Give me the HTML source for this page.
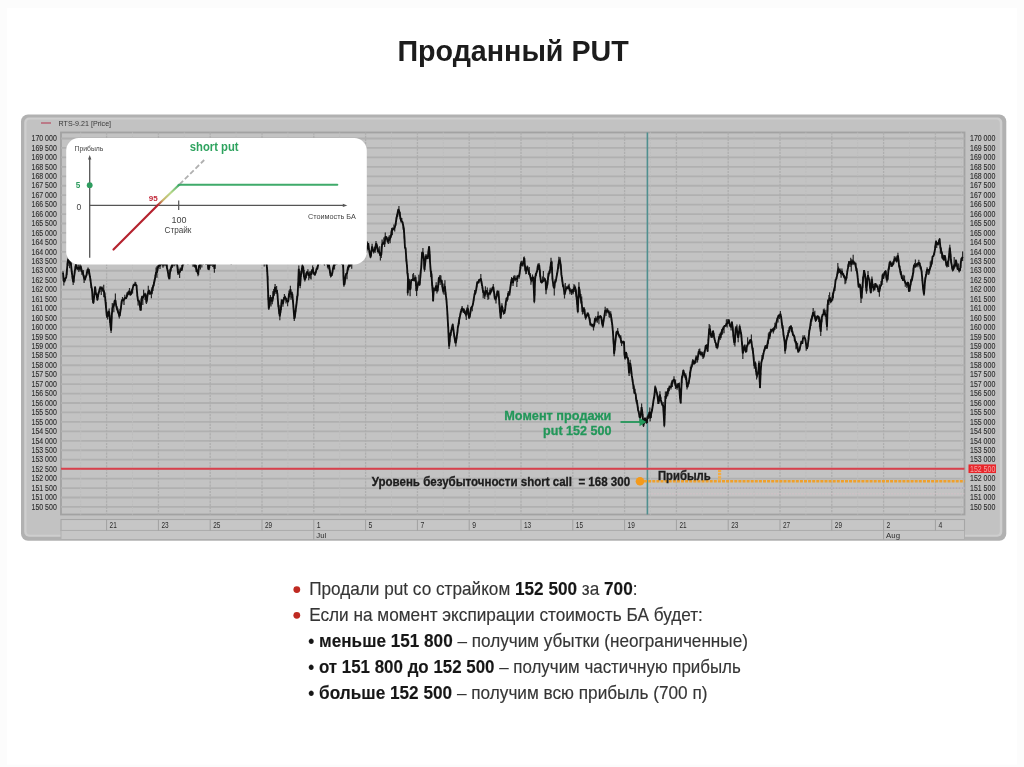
<!DOCTYPE html><html><head><meta charset="utf-8"><title>Проданный PUT</title>
<style>html,body{margin:0;padding:0;background:#fff;}body{width:1024px;height:767px;overflow:hidden;position:relative;font-family:"Liberation Sans",sans-serif;}svg{position:absolute;left:0;top:0;display:block}text{font-family:"Liberation Sans",sans-serif;}</style></head><body>
<svg width="1024" height="767" viewBox="0 0 1024 767">
<defs>
<linearGradient id="rg" gradientUnits="userSpaceOnUse" x1="157.6" y1="205.2" x2="179.5" y2="184.4"><stop offset="0" stop-color="#b5232f"/><stop offset="0.25" stop-color="#c9b46a"/><stop offset="0.6" stop-color="#b9d98a"/><stop offset="1" stop-color="#3faa6a"/></linearGradient>
<filter id="b0" x="-5%" y="-20%" width="110%" height="140%"><feGaussianBlur stdDeviation="0.4"/></filter>
<filter id="b1" x="-5%" y="-5%" width="110%" height="110%"><feGaussianBlur stdDeviation="0.45"/></filter>
<filter id="b2" x="-5%" y="-5%" width="110%" height="110%"><feGaussianBlur stdDeviation="0.6"/></filter>
<clipPath id="pc"><rect x="61" y="132.5" width="903.5" height="382.0"/></clipPath>
</defs>
<rect width="1024" height="767" fill="#fcfcfc"/><rect x="7" y="8" width="1010" height="756.5" fill="#ffffff"/>
<text x="397.4" y="60.9" font-size="28.6" font-weight="bold" fill="#1a1a1a" filter="url(#b0)" textLength="231.4" lengthAdjust="spacingAndGlyphs">Проданный PUT</text>
<g filter="url(#b1)">
<rect x="21" y="114.5" width="985.3" height="426.29999999999995" rx="7" fill="#b1b1b1"/>
<rect x="24.2" y="117.5" width="978.0999999999999" height="419.29999999999995" rx="5" fill="#cecece"/>
<rect x="26.5" y="119.5" width="973.3" height="415.29999999999995" rx="3.5" fill="#c2c2c2"/>
<rect x="61" y="132.5" width="903.5" height="382.0" fill="#c3c3c3" stroke="#a2a2a2" stroke-width="1.8"/>
<line x1="61" x2="964.5" y1="138.50" y2="138.50" stroke="#b0b0b0" stroke-width="1.8"/>
<line x1="61" x2="964.5" y1="147.95" y2="147.95" stroke="#b0b0b0" stroke-width="1.8"/>
<line x1="61" x2="964.5" y1="157.39" y2="157.39" stroke="#b0b0b0" stroke-width="1.8"/>
<line x1="61" x2="964.5" y1="166.84" y2="166.84" stroke="#b0b0b0" stroke-width="1.8"/>
<line x1="61" x2="964.5" y1="176.29" y2="176.29" stroke="#b0b0b0" stroke-width="1.8"/>
<line x1="61" x2="964.5" y1="185.74" y2="185.74" stroke="#b0b0b0" stroke-width="1.8"/>
<line x1="61" x2="964.5" y1="195.18" y2="195.18" stroke="#b0b0b0" stroke-width="1.8"/>
<line x1="61" x2="964.5" y1="204.63" y2="204.63" stroke="#b0b0b0" stroke-width="1.8"/>
<line x1="61" x2="964.5" y1="214.08" y2="214.08" stroke="#b0b0b0" stroke-width="1.8"/>
<line x1="61" x2="964.5" y1="223.52" y2="223.52" stroke="#b0b0b0" stroke-width="1.8"/>
<line x1="61" x2="964.5" y1="232.97" y2="232.97" stroke="#b0b0b0" stroke-width="1.8"/>
<line x1="61" x2="964.5" y1="242.42" y2="242.42" stroke="#b0b0b0" stroke-width="1.8"/>
<line x1="61" x2="964.5" y1="251.86" y2="251.86" stroke="#b0b0b0" stroke-width="1.8"/>
<line x1="61" x2="964.5" y1="261.31" y2="261.31" stroke="#b0b0b0" stroke-width="1.8"/>
<line x1="61" x2="964.5" y1="270.76" y2="270.76" stroke="#b0b0b0" stroke-width="1.8"/>
<line x1="61" x2="964.5" y1="280.20" y2="280.20" stroke="#b0b0b0" stroke-width="1.8"/>
<line x1="61" x2="964.5" y1="289.65" y2="289.65" stroke="#b0b0b0" stroke-width="1.8"/>
<line x1="61" x2="964.5" y1="299.10" y2="299.10" stroke="#b0b0b0" stroke-width="1.8"/>
<line x1="61" x2="964.5" y1="308.55" y2="308.55" stroke="#b0b0b0" stroke-width="1.8"/>
<line x1="61" x2="964.5" y1="317.99" y2="317.99" stroke="#b0b0b0" stroke-width="1.8"/>
<line x1="61" x2="964.5" y1="327.44" y2="327.44" stroke="#b0b0b0" stroke-width="1.8"/>
<line x1="61" x2="964.5" y1="336.89" y2="336.89" stroke="#b0b0b0" stroke-width="1.8"/>
<line x1="61" x2="964.5" y1="346.33" y2="346.33" stroke="#b0b0b0" stroke-width="1.8"/>
<line x1="61" x2="964.5" y1="355.78" y2="355.78" stroke="#b0b0b0" stroke-width="1.8"/>
<line x1="61" x2="964.5" y1="365.23" y2="365.23" stroke="#b0b0b0" stroke-width="1.8"/>
<line x1="61" x2="964.5" y1="374.67" y2="374.67" stroke="#b0b0b0" stroke-width="1.8"/>
<line x1="61" x2="964.5" y1="384.12" y2="384.12" stroke="#b0b0b0" stroke-width="1.8"/>
<line x1="61" x2="964.5" y1="393.57" y2="393.57" stroke="#b0b0b0" stroke-width="1.8"/>
<line x1="61" x2="964.5" y1="403.02" y2="403.02" stroke="#b0b0b0" stroke-width="1.8"/>
<line x1="61" x2="964.5" y1="412.46" y2="412.46" stroke="#b0b0b0" stroke-width="1.8"/>
<line x1="61" x2="964.5" y1="421.91" y2="421.91" stroke="#b0b0b0" stroke-width="1.8"/>
<line x1="61" x2="964.5" y1="431.36" y2="431.36" stroke="#b0b0b0" stroke-width="1.8"/>
<line x1="61" x2="964.5" y1="440.80" y2="440.80" stroke="#b0b0b0" stroke-width="1.8"/>
<line x1="61" x2="964.5" y1="450.25" y2="450.25" stroke="#b0b0b0" stroke-width="1.8"/>
<line x1="61" x2="964.5" y1="459.70" y2="459.70" stroke="#b0b0b0" stroke-width="1.8"/>
<line x1="61" x2="964.5" y1="469.14" y2="469.14" stroke="#b0b0b0" stroke-width="1.8"/>
<line x1="61" x2="964.5" y1="478.59" y2="478.59" stroke="#b0b0b0" stroke-width="1.8"/>
<line x1="61" x2="964.5" y1="488.04" y2="488.04" stroke="#b0b0b0" stroke-width="1.8"/>
<line x1="61" x2="964.5" y1="497.49" y2="497.49" stroke="#b0b0b0" stroke-width="1.8"/>
<line x1="61" x2="964.5" y1="506.93" y2="506.93" stroke="#b0b0b0" stroke-width="1.8"/>
<line x1="106.60" x2="106.60" y1="132.5" y2="514.5" stroke="#aeaeae" stroke-width="1.3" stroke-dasharray="2.2 1"/>
<line x1="132.50" x2="132.50" y1="132.5" y2="514.5" stroke="#bdbdbd" stroke-width="1" stroke-dasharray="2 1.2"/>
<line x1="158.40" x2="158.40" y1="132.5" y2="514.5" stroke="#aeaeae" stroke-width="1.3" stroke-dasharray="2.2 1"/>
<line x1="184.30" x2="184.30" y1="132.5" y2="514.5" stroke="#bdbdbd" stroke-width="1" stroke-dasharray="2 1.2"/>
<line x1="210.20" x2="210.20" y1="132.5" y2="514.5" stroke="#aeaeae" stroke-width="1.3" stroke-dasharray="2.2 1"/>
<line x1="236.10" x2="236.10" y1="132.5" y2="514.5" stroke="#bdbdbd" stroke-width="1" stroke-dasharray="2 1.2"/>
<line x1="262.00" x2="262.00" y1="132.5" y2="514.5" stroke="#aeaeae" stroke-width="1.3" stroke-dasharray="2.2 1"/>
<line x1="287.90" x2="287.90" y1="132.5" y2="514.5" stroke="#bdbdbd" stroke-width="1" stroke-dasharray="2 1.2"/>
<line x1="313.80" x2="313.80" y1="132.5" y2="514.5" stroke="#aeaeae" stroke-width="1.3" stroke-dasharray="2.2 1"/>
<line x1="339.70" x2="339.70" y1="132.5" y2="514.5" stroke="#bdbdbd" stroke-width="1" stroke-dasharray="2 1.2"/>
<line x1="365.60" x2="365.60" y1="132.5" y2="514.5" stroke="#aeaeae" stroke-width="1.3" stroke-dasharray="2.2 1"/>
<line x1="391.50" x2="391.50" y1="132.5" y2="514.5" stroke="#bdbdbd" stroke-width="1" stroke-dasharray="2 1.2"/>
<line x1="417.40" x2="417.40" y1="132.5" y2="514.5" stroke="#aeaeae" stroke-width="1.3" stroke-dasharray="2.2 1"/>
<line x1="443.30" x2="443.30" y1="132.5" y2="514.5" stroke="#bdbdbd" stroke-width="1" stroke-dasharray="2 1.2"/>
<line x1="469.20" x2="469.20" y1="132.5" y2="514.5" stroke="#aeaeae" stroke-width="1.3" stroke-dasharray="2.2 1"/>
<line x1="495.10" x2="495.10" y1="132.5" y2="514.5" stroke="#bdbdbd" stroke-width="1" stroke-dasharray="2 1.2"/>
<line x1="521.00" x2="521.00" y1="132.5" y2="514.5" stroke="#aeaeae" stroke-width="1.3" stroke-dasharray="2.2 1"/>
<line x1="546.90" x2="546.90" y1="132.5" y2="514.5" stroke="#bdbdbd" stroke-width="1" stroke-dasharray="2 1.2"/>
<line x1="572.80" x2="572.80" y1="132.5" y2="514.5" stroke="#aeaeae" stroke-width="1.3" stroke-dasharray="2.2 1"/>
<line x1="598.70" x2="598.70" y1="132.5" y2="514.5" stroke="#bdbdbd" stroke-width="1" stroke-dasharray="2 1.2"/>
<line x1="624.60" x2="624.60" y1="132.5" y2="514.5" stroke="#aeaeae" stroke-width="1.3" stroke-dasharray="2.2 1"/>
<line x1="650.50" x2="650.50" y1="132.5" y2="514.5" stroke="#bdbdbd" stroke-width="1" stroke-dasharray="2 1.2"/>
<line x1="676.40" x2="676.40" y1="132.5" y2="514.5" stroke="#aeaeae" stroke-width="1.3" stroke-dasharray="2.2 1"/>
<line x1="702.30" x2="702.30" y1="132.5" y2="514.5" stroke="#bdbdbd" stroke-width="1" stroke-dasharray="2 1.2"/>
<line x1="728.20" x2="728.20" y1="132.5" y2="514.5" stroke="#aeaeae" stroke-width="1.3" stroke-dasharray="2.2 1"/>
<line x1="754.10" x2="754.10" y1="132.5" y2="514.5" stroke="#bdbdbd" stroke-width="1" stroke-dasharray="2 1.2"/>
<line x1="780.00" x2="780.00" y1="132.5" y2="514.5" stroke="#aeaeae" stroke-width="1.3" stroke-dasharray="2.2 1"/>
<line x1="805.90" x2="805.90" y1="132.5" y2="514.5" stroke="#bdbdbd" stroke-width="1" stroke-dasharray="2 1.2"/>
<line x1="831.80" x2="831.80" y1="132.5" y2="514.5" stroke="#aeaeae" stroke-width="1.3" stroke-dasharray="2.2 1"/>
<line x1="857.70" x2="857.70" y1="132.5" y2="514.5" stroke="#bdbdbd" stroke-width="1" stroke-dasharray="2 1.2"/>
<line x1="883.60" x2="883.60" y1="132.5" y2="514.5" stroke="#aeaeae" stroke-width="1.3" stroke-dasharray="2.2 1"/>
<line x1="909.50" x2="909.50" y1="132.5" y2="514.5" stroke="#bdbdbd" stroke-width="1" stroke-dasharray="2 1.2"/>
<line x1="935.40" x2="935.40" y1="132.5" y2="514.5" stroke="#aeaeae" stroke-width="1.3" stroke-dasharray="2.2 1"/>
<line x1="961.30" x2="961.30" y1="132.5" y2="514.5" stroke="#bdbdbd" stroke-width="1" stroke-dasharray="2 1.2"/>
<line x1="80.70" x2="80.70" y1="132.5" y2="514.5" stroke="#bdbdbd" stroke-width="1" stroke-dasharray="2 1.2"/>
<rect x="61" y="519.5" width="903.5" height="11" fill="#c6c6c6" stroke="#a6a6a6" stroke-width="1.1"/>
<rect x="61" y="530.5" width="903.5" height="9" fill="#c6c6c6" stroke="#adadad" stroke-width="0.9"/>
<line x1="106.60" x2="106.60" y1="519.5" y2="530.5" stroke="#a0a0a0" stroke-width="1"/>
<text x="109.6" y="527.6" font-size="8.6" fill="#2c2c2c" textLength="7.2" lengthAdjust="spacingAndGlyphs">21</text>
<line x1="158.40" x2="158.40" y1="519.5" y2="530.5" stroke="#a0a0a0" stroke-width="1"/>
<text x="161.4" y="527.6" font-size="8.6" fill="#2c2c2c" textLength="7.2" lengthAdjust="spacingAndGlyphs">23</text>
<line x1="210.20" x2="210.20" y1="519.5" y2="530.5" stroke="#a0a0a0" stroke-width="1"/>
<text x="213.2" y="527.6" font-size="8.6" fill="#2c2c2c" textLength="7.2" lengthAdjust="spacingAndGlyphs">25</text>
<line x1="262.00" x2="262.00" y1="519.5" y2="530.5" stroke="#a0a0a0" stroke-width="1"/>
<text x="265.0" y="527.6" font-size="8.6" fill="#2c2c2c" textLength="7.2" lengthAdjust="spacingAndGlyphs">29</text>
<line x1="313.80" x2="313.80" y1="519.5" y2="530.5" stroke="#a0a0a0" stroke-width="1"/>
<text x="316.8" y="527.6" font-size="8.6" fill="#2c2c2c" textLength="3.8" lengthAdjust="spacingAndGlyphs">1</text>
<line x1="365.60" x2="365.60" y1="519.5" y2="530.5" stroke="#a0a0a0" stroke-width="1"/>
<text x="368.6" y="527.6" font-size="8.6" fill="#2c2c2c" textLength="3.8" lengthAdjust="spacingAndGlyphs">5</text>
<line x1="417.40" x2="417.40" y1="519.5" y2="530.5" stroke="#a0a0a0" stroke-width="1"/>
<text x="420.4" y="527.6" font-size="8.6" fill="#2c2c2c" textLength="3.8" lengthAdjust="spacingAndGlyphs">7</text>
<line x1="469.20" x2="469.20" y1="519.5" y2="530.5" stroke="#a0a0a0" stroke-width="1"/>
<text x="472.2" y="527.6" font-size="8.6" fill="#2c2c2c" textLength="3.8" lengthAdjust="spacingAndGlyphs">9</text>
<line x1="521.00" x2="521.00" y1="519.5" y2="530.5" stroke="#a0a0a0" stroke-width="1"/>
<text x="524.0" y="527.6" font-size="8.6" fill="#2c2c2c" textLength="7.2" lengthAdjust="spacingAndGlyphs">13</text>
<line x1="572.80" x2="572.80" y1="519.5" y2="530.5" stroke="#a0a0a0" stroke-width="1"/>
<text x="575.8" y="527.6" font-size="8.6" fill="#2c2c2c" textLength="7.2" lengthAdjust="spacingAndGlyphs">15</text>
<line x1="624.60" x2="624.60" y1="519.5" y2="530.5" stroke="#a0a0a0" stroke-width="1"/>
<text x="627.6" y="527.6" font-size="8.6" fill="#2c2c2c" textLength="7.2" lengthAdjust="spacingAndGlyphs">19</text>
<line x1="676.40" x2="676.40" y1="519.5" y2="530.5" stroke="#a0a0a0" stroke-width="1"/>
<text x="679.4" y="527.6" font-size="8.6" fill="#2c2c2c" textLength="7.2" lengthAdjust="spacingAndGlyphs">21</text>
<line x1="728.20" x2="728.20" y1="519.5" y2="530.5" stroke="#a0a0a0" stroke-width="1"/>
<text x="731.2" y="527.6" font-size="8.6" fill="#2c2c2c" textLength="7.2" lengthAdjust="spacingAndGlyphs">23</text>
<line x1="780.00" x2="780.00" y1="519.5" y2="530.5" stroke="#a0a0a0" stroke-width="1"/>
<text x="783.0" y="527.6" font-size="8.6" fill="#2c2c2c" textLength="7.2" lengthAdjust="spacingAndGlyphs">27</text>
<line x1="831.80" x2="831.80" y1="519.5" y2="530.5" stroke="#a0a0a0" stroke-width="1"/>
<text x="834.8" y="527.6" font-size="8.6" fill="#2c2c2c" textLength="7.2" lengthAdjust="spacingAndGlyphs">29</text>
<line x1="883.60" x2="883.60" y1="519.5" y2="530.5" stroke="#a0a0a0" stroke-width="1"/>
<text x="886.6" y="527.6" font-size="8.6" fill="#2c2c2c" textLength="3.8" lengthAdjust="spacingAndGlyphs">2</text>
<line x1="935.40" x2="935.40" y1="519.5" y2="530.5" stroke="#a0a0a0" stroke-width="1"/>
<text x="938.4" y="527.6" font-size="8.6" fill="#2c2c2c" textLength="3.8" lengthAdjust="spacingAndGlyphs">4</text>
<line x1="313.80" x2="313.80" y1="530.5" y2="539.5" stroke="#a0a0a0" stroke-width="1"/>
<text x="316.3" y="538.3" font-size="7.8" fill="#2c2c2c">Jul</text>
<line x1="883.60" x2="883.60" y1="530.5" y2="539.5" stroke="#a0a0a0" stroke-width="1"/>
<text x="886.1" y="538.3" font-size="7.8" fill="#2c2c2c">Aug</text>
<line x1="41" x2="51" y1="123" y2="123" stroke="#b85468" stroke-width="1.3"/>
<text x="58.6" y="125.8" font-size="7.8" fill="#383838" textLength="52.5" lengthAdjust="spacingAndGlyphs">RTS-9.21 [Price]</text>
<text x="31.5" y="141.20" font-size="8.8" fill="#2c2c2c" stroke="#2c2c2c" stroke-width="0.12" textLength="25.3" lengthAdjust="spacingAndGlyphs">170 000</text>
<text x="970" y="141.20" font-size="8.8" fill="#2c2c2c" stroke="#2c2c2c" stroke-width="0.12" textLength="25.3" lengthAdjust="spacingAndGlyphs">170 000</text>
<text x="31.5" y="150.65" font-size="8.8" fill="#2c2c2c" stroke="#2c2c2c" stroke-width="0.12" textLength="25.3" lengthAdjust="spacingAndGlyphs">169 500</text>
<text x="970" y="150.65" font-size="8.8" fill="#2c2c2c" stroke="#2c2c2c" stroke-width="0.12" textLength="25.3" lengthAdjust="spacingAndGlyphs">169 500</text>
<text x="31.5" y="160.09" font-size="8.8" fill="#2c2c2c" stroke="#2c2c2c" stroke-width="0.12" textLength="25.3" lengthAdjust="spacingAndGlyphs">169 000</text>
<text x="970" y="160.09" font-size="8.8" fill="#2c2c2c" stroke="#2c2c2c" stroke-width="0.12" textLength="25.3" lengthAdjust="spacingAndGlyphs">169 000</text>
<text x="31.5" y="169.54" font-size="8.8" fill="#2c2c2c" stroke="#2c2c2c" stroke-width="0.12" textLength="25.3" lengthAdjust="spacingAndGlyphs">168 500</text>
<text x="970" y="169.54" font-size="8.8" fill="#2c2c2c" stroke="#2c2c2c" stroke-width="0.12" textLength="25.3" lengthAdjust="spacingAndGlyphs">168 500</text>
<text x="31.5" y="178.99" font-size="8.8" fill="#2c2c2c" stroke="#2c2c2c" stroke-width="0.12" textLength="25.3" lengthAdjust="spacingAndGlyphs">168 000</text>
<text x="970" y="178.99" font-size="8.8" fill="#2c2c2c" stroke="#2c2c2c" stroke-width="0.12" textLength="25.3" lengthAdjust="spacingAndGlyphs">168 000</text>
<text x="31.5" y="188.44" font-size="8.8" fill="#2c2c2c" stroke="#2c2c2c" stroke-width="0.12" textLength="25.3" lengthAdjust="spacingAndGlyphs">167 500</text>
<text x="970" y="188.44" font-size="8.8" fill="#2c2c2c" stroke="#2c2c2c" stroke-width="0.12" textLength="25.3" lengthAdjust="spacingAndGlyphs">167 500</text>
<text x="31.5" y="197.88" font-size="8.8" fill="#2c2c2c" stroke="#2c2c2c" stroke-width="0.12" textLength="25.3" lengthAdjust="spacingAndGlyphs">167 000</text>
<text x="970" y="197.88" font-size="8.8" fill="#2c2c2c" stroke="#2c2c2c" stroke-width="0.12" textLength="25.3" lengthAdjust="spacingAndGlyphs">167 000</text>
<text x="31.5" y="207.33" font-size="8.8" fill="#2c2c2c" stroke="#2c2c2c" stroke-width="0.12" textLength="25.3" lengthAdjust="spacingAndGlyphs">166 500</text>
<text x="970" y="207.33" font-size="8.8" fill="#2c2c2c" stroke="#2c2c2c" stroke-width="0.12" textLength="25.3" lengthAdjust="spacingAndGlyphs">166 500</text>
<text x="31.5" y="216.78" font-size="8.8" fill="#2c2c2c" stroke="#2c2c2c" stroke-width="0.12" textLength="25.3" lengthAdjust="spacingAndGlyphs">166 000</text>
<text x="970" y="216.78" font-size="8.8" fill="#2c2c2c" stroke="#2c2c2c" stroke-width="0.12" textLength="25.3" lengthAdjust="spacingAndGlyphs">166 000</text>
<text x="31.5" y="226.22" font-size="8.8" fill="#2c2c2c" stroke="#2c2c2c" stroke-width="0.12" textLength="25.3" lengthAdjust="spacingAndGlyphs">165 500</text>
<text x="970" y="226.22" font-size="8.8" fill="#2c2c2c" stroke="#2c2c2c" stroke-width="0.12" textLength="25.3" lengthAdjust="spacingAndGlyphs">165 500</text>
<text x="31.5" y="235.67" font-size="8.8" fill="#2c2c2c" stroke="#2c2c2c" stroke-width="0.12" textLength="25.3" lengthAdjust="spacingAndGlyphs">165 000</text>
<text x="970" y="235.67" font-size="8.8" fill="#2c2c2c" stroke="#2c2c2c" stroke-width="0.12" textLength="25.3" lengthAdjust="spacingAndGlyphs">165 000</text>
<text x="31.5" y="245.12" font-size="8.8" fill="#2c2c2c" stroke="#2c2c2c" stroke-width="0.12" textLength="25.3" lengthAdjust="spacingAndGlyphs">164 500</text>
<text x="970" y="245.12" font-size="8.8" fill="#2c2c2c" stroke="#2c2c2c" stroke-width="0.12" textLength="25.3" lengthAdjust="spacingAndGlyphs">164 500</text>
<text x="31.5" y="254.56" font-size="8.8" fill="#2c2c2c" stroke="#2c2c2c" stroke-width="0.12" textLength="25.3" lengthAdjust="spacingAndGlyphs">164 000</text>
<text x="970" y="254.56" font-size="8.8" fill="#2c2c2c" stroke="#2c2c2c" stroke-width="0.12" textLength="25.3" lengthAdjust="spacingAndGlyphs">164 000</text>
<text x="31.5" y="264.01" font-size="8.8" fill="#2c2c2c" stroke="#2c2c2c" stroke-width="0.12" textLength="25.3" lengthAdjust="spacingAndGlyphs">163 500</text>
<text x="970" y="264.01" font-size="8.8" fill="#2c2c2c" stroke="#2c2c2c" stroke-width="0.12" textLength="25.3" lengthAdjust="spacingAndGlyphs">163 500</text>
<text x="31.5" y="273.46" font-size="8.8" fill="#2c2c2c" stroke="#2c2c2c" stroke-width="0.12" textLength="25.3" lengthAdjust="spacingAndGlyphs">163 000</text>
<text x="970" y="273.46" font-size="8.8" fill="#2c2c2c" stroke="#2c2c2c" stroke-width="0.12" textLength="25.3" lengthAdjust="spacingAndGlyphs">163 000</text>
<text x="31.5" y="282.90" font-size="8.8" fill="#2c2c2c" stroke="#2c2c2c" stroke-width="0.12" textLength="25.3" lengthAdjust="spacingAndGlyphs">162 500</text>
<text x="970" y="282.90" font-size="8.8" fill="#2c2c2c" stroke="#2c2c2c" stroke-width="0.12" textLength="25.3" lengthAdjust="spacingAndGlyphs">162 500</text>
<text x="31.5" y="292.35" font-size="8.8" fill="#2c2c2c" stroke="#2c2c2c" stroke-width="0.12" textLength="25.3" lengthAdjust="spacingAndGlyphs">162 000</text>
<text x="970" y="292.35" font-size="8.8" fill="#2c2c2c" stroke="#2c2c2c" stroke-width="0.12" textLength="25.3" lengthAdjust="spacingAndGlyphs">162 000</text>
<text x="31.5" y="301.80" font-size="8.8" fill="#2c2c2c" stroke="#2c2c2c" stroke-width="0.12" textLength="25.3" lengthAdjust="spacingAndGlyphs">161 500</text>
<text x="970" y="301.80" font-size="8.8" fill="#2c2c2c" stroke="#2c2c2c" stroke-width="0.12" textLength="25.3" lengthAdjust="spacingAndGlyphs">161 500</text>
<text x="31.5" y="311.25" font-size="8.8" fill="#2c2c2c" stroke="#2c2c2c" stroke-width="0.12" textLength="25.3" lengthAdjust="spacingAndGlyphs">161 000</text>
<text x="970" y="311.25" font-size="8.8" fill="#2c2c2c" stroke="#2c2c2c" stroke-width="0.12" textLength="25.3" lengthAdjust="spacingAndGlyphs">161 000</text>
<text x="31.5" y="320.69" font-size="8.8" fill="#2c2c2c" stroke="#2c2c2c" stroke-width="0.12" textLength="25.3" lengthAdjust="spacingAndGlyphs">160 500</text>
<text x="970" y="320.69" font-size="8.8" fill="#2c2c2c" stroke="#2c2c2c" stroke-width="0.12" textLength="25.3" lengthAdjust="spacingAndGlyphs">160 500</text>
<text x="31.5" y="330.14" font-size="8.8" fill="#2c2c2c" stroke="#2c2c2c" stroke-width="0.12" textLength="25.3" lengthAdjust="spacingAndGlyphs">160 000</text>
<text x="970" y="330.14" font-size="8.8" fill="#2c2c2c" stroke="#2c2c2c" stroke-width="0.12" textLength="25.3" lengthAdjust="spacingAndGlyphs">160 000</text>
<text x="31.5" y="339.59" font-size="8.8" fill="#2c2c2c" stroke="#2c2c2c" stroke-width="0.12" textLength="25.3" lengthAdjust="spacingAndGlyphs">159 500</text>
<text x="970" y="339.59" font-size="8.8" fill="#2c2c2c" stroke="#2c2c2c" stroke-width="0.12" textLength="25.3" lengthAdjust="spacingAndGlyphs">159 500</text>
<text x="31.5" y="349.03" font-size="8.8" fill="#2c2c2c" stroke="#2c2c2c" stroke-width="0.12" textLength="25.3" lengthAdjust="spacingAndGlyphs">159 000</text>
<text x="970" y="349.03" font-size="8.8" fill="#2c2c2c" stroke="#2c2c2c" stroke-width="0.12" textLength="25.3" lengthAdjust="spacingAndGlyphs">159 000</text>
<text x="31.5" y="358.48" font-size="8.8" fill="#2c2c2c" stroke="#2c2c2c" stroke-width="0.12" textLength="25.3" lengthAdjust="spacingAndGlyphs">158 500</text>
<text x="970" y="358.48" font-size="8.8" fill="#2c2c2c" stroke="#2c2c2c" stroke-width="0.12" textLength="25.3" lengthAdjust="spacingAndGlyphs">158 500</text>
<text x="31.5" y="367.93" font-size="8.8" fill="#2c2c2c" stroke="#2c2c2c" stroke-width="0.12" textLength="25.3" lengthAdjust="spacingAndGlyphs">158 000</text>
<text x="970" y="367.93" font-size="8.8" fill="#2c2c2c" stroke="#2c2c2c" stroke-width="0.12" textLength="25.3" lengthAdjust="spacingAndGlyphs">158 000</text>
<text x="31.5" y="377.37" font-size="8.8" fill="#2c2c2c" stroke="#2c2c2c" stroke-width="0.12" textLength="25.3" lengthAdjust="spacingAndGlyphs">157 500</text>
<text x="970" y="377.37" font-size="8.8" fill="#2c2c2c" stroke="#2c2c2c" stroke-width="0.12" textLength="25.3" lengthAdjust="spacingAndGlyphs">157 500</text>
<text x="31.5" y="386.82" font-size="8.8" fill="#2c2c2c" stroke="#2c2c2c" stroke-width="0.12" textLength="25.3" lengthAdjust="spacingAndGlyphs">157 000</text>
<text x="970" y="386.82" font-size="8.8" fill="#2c2c2c" stroke="#2c2c2c" stroke-width="0.12" textLength="25.3" lengthAdjust="spacingAndGlyphs">157 000</text>
<text x="31.5" y="396.27" font-size="8.8" fill="#2c2c2c" stroke="#2c2c2c" stroke-width="0.12" textLength="25.3" lengthAdjust="spacingAndGlyphs">156 500</text>
<text x="970" y="396.27" font-size="8.8" fill="#2c2c2c" stroke="#2c2c2c" stroke-width="0.12" textLength="25.3" lengthAdjust="spacingAndGlyphs">156 500</text>
<text x="31.5" y="405.72" font-size="8.8" fill="#2c2c2c" stroke="#2c2c2c" stroke-width="0.12" textLength="25.3" lengthAdjust="spacingAndGlyphs">156 000</text>
<text x="970" y="405.72" font-size="8.8" fill="#2c2c2c" stroke="#2c2c2c" stroke-width="0.12" textLength="25.3" lengthAdjust="spacingAndGlyphs">156 000</text>
<text x="31.5" y="415.16" font-size="8.8" fill="#2c2c2c" stroke="#2c2c2c" stroke-width="0.12" textLength="25.3" lengthAdjust="spacingAndGlyphs">155 500</text>
<text x="970" y="415.16" font-size="8.8" fill="#2c2c2c" stroke="#2c2c2c" stroke-width="0.12" textLength="25.3" lengthAdjust="spacingAndGlyphs">155 500</text>
<text x="31.5" y="424.61" font-size="8.8" fill="#2c2c2c" stroke="#2c2c2c" stroke-width="0.12" textLength="25.3" lengthAdjust="spacingAndGlyphs">155 000</text>
<text x="970" y="424.61" font-size="8.8" fill="#2c2c2c" stroke="#2c2c2c" stroke-width="0.12" textLength="25.3" lengthAdjust="spacingAndGlyphs">155 000</text>
<text x="31.5" y="434.06" font-size="8.8" fill="#2c2c2c" stroke="#2c2c2c" stroke-width="0.12" textLength="25.3" lengthAdjust="spacingAndGlyphs">154 500</text>
<text x="970" y="434.06" font-size="8.8" fill="#2c2c2c" stroke="#2c2c2c" stroke-width="0.12" textLength="25.3" lengthAdjust="spacingAndGlyphs">154 500</text>
<text x="31.5" y="443.50" font-size="8.8" fill="#2c2c2c" stroke="#2c2c2c" stroke-width="0.12" textLength="25.3" lengthAdjust="spacingAndGlyphs">154 000</text>
<text x="970" y="443.50" font-size="8.8" fill="#2c2c2c" stroke="#2c2c2c" stroke-width="0.12" textLength="25.3" lengthAdjust="spacingAndGlyphs">154 000</text>
<text x="31.5" y="452.95" font-size="8.8" fill="#2c2c2c" stroke="#2c2c2c" stroke-width="0.12" textLength="25.3" lengthAdjust="spacingAndGlyphs">153 500</text>
<text x="970" y="452.95" font-size="8.8" fill="#2c2c2c" stroke="#2c2c2c" stroke-width="0.12" textLength="25.3" lengthAdjust="spacingAndGlyphs">153 500</text>
<text x="31.5" y="462.40" font-size="8.8" fill="#2c2c2c" stroke="#2c2c2c" stroke-width="0.12" textLength="25.3" lengthAdjust="spacingAndGlyphs">153 000</text>
<text x="970" y="462.40" font-size="8.8" fill="#2c2c2c" stroke="#2c2c2c" stroke-width="0.12" textLength="25.3" lengthAdjust="spacingAndGlyphs">153 000</text>
<text x="31.5" y="471.84" font-size="8.8" fill="#2c2c2c" stroke="#2c2c2c" stroke-width="0.12" textLength="25.3" lengthAdjust="spacingAndGlyphs">152 500</text>
<rect x="968.5" y="464.44" width="27.5" height="8.6" fill="#e8252b"/>
<text x="970" y="471.84" font-size="8.8" fill="#f4a4a4" textLength="25.3" lengthAdjust="spacingAndGlyphs">152 500</text>
<text x="31.5" y="481.29" font-size="8.8" fill="#2c2c2c" stroke="#2c2c2c" stroke-width="0.12" textLength="25.3" lengthAdjust="spacingAndGlyphs">152 000</text>
<text x="970" y="481.29" font-size="8.8" fill="#2c2c2c" stroke="#2c2c2c" stroke-width="0.12" textLength="25.3" lengthAdjust="spacingAndGlyphs">152 000</text>
<text x="31.5" y="490.74" font-size="8.8" fill="#2c2c2c" stroke="#2c2c2c" stroke-width="0.12" textLength="25.3" lengthAdjust="spacingAndGlyphs">151 500</text>
<text x="970" y="490.74" font-size="8.8" fill="#2c2c2c" stroke="#2c2c2c" stroke-width="0.12" textLength="25.3" lengthAdjust="spacingAndGlyphs">151 500</text>
<text x="31.5" y="500.19" font-size="8.8" fill="#2c2c2c" stroke="#2c2c2c" stroke-width="0.12" textLength="25.3" lengthAdjust="spacingAndGlyphs">151 000</text>
<text x="970" y="500.19" font-size="8.8" fill="#2c2c2c" stroke="#2c2c2c" stroke-width="0.12" textLength="25.3" lengthAdjust="spacingAndGlyphs">151 000</text>
<text x="31.5" y="509.63" font-size="8.8" fill="#2c2c2c" stroke="#2c2c2c" stroke-width="0.12" textLength="25.3" lengthAdjust="spacingAndGlyphs">150 500</text>
<text x="970" y="509.63" font-size="8.8" fill="#2c2c2c" stroke="#2c2c2c" stroke-width="0.12" textLength="25.3" lengthAdjust="spacingAndGlyphs">150 500</text>
</g>
<line x1="647.4" x2="647.4" y1="132.5" y2="514.5" stroke="#4f8f8f" stroke-width="1.6"/>
<g clip-path="url(#pc)" filter="url(#b2)"><path d="M63.0,272.8 L63.4,276.7 L63.8,281.4 L64.6,281.0 L65.4,278.4 L66.2,277.5 L66.9,270.7 L67.5,263.5 L68.2,258.8 L68.9,259.6 L69.6,263.0 L70.2,263.0 L70.9,263.5 L71.7,271.5 L72.4,276.4 L73.2,282.2 L74.0,277.7 L74.7,272.1 L75.5,266.6 L76.3,264.0 L77.1,268.5 L77.9,268.1 L78.7,267.4 L79.5,269.2 L80.2,266.5 L81.0,267.4 L81.8,271.3 L82.6,271.9 L83.3,274.8 L84.1,278.3 L84.9,279.9 L85.7,277.0 L86.5,275.1 L87.3,271.3 L88.0,269.4 L88.8,269.7 L89.6,274.9 L90.4,279.1 L91.2,285.6 L92.0,289.7 L92.7,299.6 L93.5,302.6 L94.3,295.7 L95.1,286.9 L95.9,293.4 L96.6,294.7 L97.4,300.2 L98.2,295.0 L99.0,291.8 L99.8,288.5 L100.6,288.1 L101.3,289.0 L102.1,287.7 L102.9,290.0 L103.7,290.6 L104.5,293.2 L105.3,299.1 L106.0,307.4 L106.8,315.9 L107.6,316.6 L108.4,311.9 L109.2,311.9 L109.8,318.6 L110.5,325.2 L111.1,330.7 L111.7,317.2 L112.3,308.8 L113.1,306.3 L113.8,305.8 L114.6,301.0 L115.4,300.2 L116.2,305.7 L117.0,308.8 L117.8,311.2 L118.5,312.6 L119.3,316.6 L120.1,313.1 L120.9,307.9 L121.7,301.2 L122.5,299.4 L123.3,300.3 L124.0,299.5 L124.8,297.9 L125.6,298.3 L126.3,298.0 L127.1,295.0 L127.9,293.2 L128.7,293.6 L129.5,291.4 L130.3,294.8 L131.1,294.0 L131.9,290.8 L132.6,288.9 L133.4,285.4 L134.2,285.4 L135.0,283.8 L135.7,284.5 L136.5,285.4 L137.3,295.4 L138.1,301.0 L138.9,300.7 L139.7,304.8 L140.5,310.4 L141.2,303.8 L142.0,296.3 L142.8,298.2 L143.6,296.2 L144.4,294.7 L145.1,294.1 L145.7,295.7 L146.4,302.6 L147.0,299.5 L147.7,294.0 L148.3,291.6 L149.1,290.2 L149.8,294.3 L150.6,293.2 L151.4,293.0 L152.2,289.3 L153.0,286.9 L153.8,284.2 L154.5,280.7 L155.3,277.1 L156.1,272.1 L156.9,272.7 L157.6,269.0 L158.4,265.8 L159.2,266.1 L160.0,265.5 L160.8,264.0 L161.5,260.7 L162.3,264.8 L163.0,262.0 L163.8,264.5 L164.7,264.6 L165.5,264.5 L166.3,263.4 L167.0,268.0 L167.8,271.3 L168.6,276.6 L169.4,279.1 L170.2,270.6 L171.0,268.2 L171.7,265.8 L172.3,265.8 L173.0,262.0 L173.8,259.4 L174.7,264.1 L175.5,261.0 L176.3,263.9 L177.2,265.0 L177.6,268.6 L178.0,272.8 L178.8,272.6 L179.6,272.4 L180.3,270.7 L181.1,269.7 L181.9,269.3 L182.7,265.0 L183.5,262.2 L184.2,261.0 L185.0,260.0 L185.7,261.5 L186.4,259.5 L187.1,257.6 L187.9,260.5 L188.6,261.1 L189.3,257.5 L190.0,258.0 L190.8,256.7 L191.5,259.8 L192.2,260.7 L193.0,262.0 L193.7,262.5 L194.5,266.4 L195.2,265.0 L195.9,265.6 L196.6,271.8 L197.3,269.9 L198.0,274.4 L198.6,268.8 L199.1,265.8 L199.7,264.9 L200.4,263.9 L201.0,260.0 L201.8,261.3 L202.6,260.2 L203.4,259.6 L204.2,259.5 L205.0,259.0 L205.8,261.5 L206.5,261.7 L207.2,264.0 L208.0,265.0 L208.3,268.3 L208.6,269.6 L209.1,266.8 L209.6,264.0 L210.4,264.0 L211.2,262.3 L212.0,260.0 L212.7,264.8 L213.3,263.2 L214.0,264.0 L214.2,265.7 L214.4,268.8 L214.8,265.3 L215.2,263.0 L215.9,261.7 L216.6,262.1 L217.3,258.7 L218.0,258.0 L218.8,258.3 L219.6,260.5 L220.3,252.6 L221.1,254.8 L221.9,256.7 L222.7,256.7 L223.4,256.1 L224.2,254.6 L225.0,255.0 L225.8,256.6 L226.6,256.4 L227.3,255.4 L228.1,260.9 L228.9,257.8 L229.7,256.7 L230.4,257.9 L231.2,258.2 L232.0,259.0 L232.7,258.4 L233.5,253.5 L234.2,256.8 L234.9,258.9 L235.6,254.7 L236.4,256.2 L237.1,257.4 L237.8,256.8 L238.5,257.4 L239.3,251.6 L240.0,254.0 L240.7,253.7 L241.5,254.0 L242.2,255.9 L242.9,256.9 L243.6,250.8 L244.4,257.5 L245.1,253.4 L245.8,257.3 L246.5,253.9 L247.3,257.0 L248.0,257.0 L248.7,258.6 L249.5,255.8 L250.2,256.0 L250.9,256.5 L251.6,255.0 L252.4,254.1 L253.1,256.4 L253.8,255.1 L254.5,252.4 L255.3,257.1 L256.0,252.0 L256.8,250.6 L257.5,254.6 L258.2,253.0 L259.0,254.2 L259.8,255.7 L260.5,255.4 L261.2,256.6 L262.0,256.0 L262.8,254.8 L263.5,256.1 L264.2,261.1 L265.0,259.8 L265.8,261.0 L266.5,264.1 L267.1,268.7 L267.6,278.2 L268.2,295.6 L268.8,308.7 L269.6,304.1 L270.4,297.0 L271.0,301.1 L271.7,298.5 L272.3,301.7 L273.0,298.0 L273.7,292.3 L274.4,291.8 L275.1,286.8 L275.9,291.8 L276.6,290.0 L277.4,293.8 L278.2,304.0 L279.0,310.6 L279.8,316.5 L280.6,310.3 L281.3,304.8 L282.1,299.9 L282.9,304.1 L283.6,300.0 L284.4,297.5 L285.2,297.0 L286.0,299.2 L286.8,300.8 L287.6,301.7 L288.3,301.1 L289.0,293.7 L289.7,294.2 L290.4,289.1 L291.0,293.2 L291.7,294.7 L292.3,293.8 L293.0,301.9 L293.6,309.3 L294.3,318.9 L294.9,316.4 L295.6,310.7 L296.2,306.3 L296.9,300.3 L297.7,293.8 L298.2,283.7 L298.8,268.8 L299.5,277.0 L300.1,286.0 L300.9,275.3 L301.6,271.8 L302.4,265.7 L303.2,267.2 L304.0,276.5 L304.8,279.8 L305.6,277.7 L306.3,273.5 L307.1,271.9 L307.9,273.0 L308.7,275.4 L309.5,275.1 L310.3,273.9 L311.1,274.6 L311.8,270.9 L312.6,269.6 L313.4,272.1 L314.1,273.7 L314.9,274.7 L315.7,272.7 L316.5,269.0 L317.3,269.0 L318.1,264.9 L318.7,260.1 L319.4,259.8 L320.0,260.0 L320.8,256.2 L321.5,260.8 L322.2,256.4 L323.0,258.0 L323.8,258.7 L324.5,259.2 L325.2,260.2 L326.0,261.0 L326.8,261.0 L327.5,263.4 L328.2,267.0 L329.0,265.0 L329.8,270.5 L330.6,275.9 L331.4,274.8 L332.2,273.5 L332.9,269.4 L333.7,265.6 L334.5,265.7 L335.2,261.9 L336.0,260.0 L336.8,261.3 L337.5,256.2 L338.2,257.5 L339.0,258.0 L339.8,260.7 L340.7,261.3 L341.5,261.0 L342.3,263.0 L343.1,265.0 L343.5,276.5 L343.9,285.2 L344.7,282.6 L345.4,277.3 L346.2,273.8 L347.0,273.5 L347.8,268.5 L348.6,265.7 L349.4,266.8 L350.1,263.9 L350.9,262.9 L351.7,264.0 L352.5,261.2 L353.4,258.4 L354.2,259.3 L355.0,258.0 L355.8,254.5 L356.5,255.6 L357.2,249.5 L358.0,252.0 L358.8,253.3 L359.5,252.4 L360.2,250.9 L361.0,255.0 L361.8,254.5 L362.5,251.0 L363.2,246.0 L364.0,248.0 L364.7,247.8 L365.3,251.2 L366.0,252.0 L366.7,248.3 L367.5,247.5 L368.2,243.2 L369.0,249.2 L369.7,253.7 L370.5,257.3 L371.3,252.4 L372.1,246.3 L372.9,250.9 L373.6,251.0 L374.4,250.7 L375.2,249.0 L376.0,243.3 L376.8,245.5 L377.5,249.1 L378.2,251.8 L379.0,251.1 L379.7,252.9 L380.4,255.7 L381.3,254.8 L382.1,244.4 L383.0,243.2 L383.8,242.4 L384.6,244.2 L385.3,236.9 L386.1,236.9 L386.9,238.8 L387.7,241.7 L388.5,239.0 L389.3,240.0 L390.1,238.4 L390.9,236.5 L391.6,230.9 L392.4,229.9 L393.2,228.9 L393.9,228.8 L394.7,227.5 L395.5,225.0 L396.3,219.6 L397.1,215.8 L397.7,212.3 L398.3,209.5 L398.9,210.1 L399.6,213.6 L400.2,216.6 L401.0,220.5 L401.8,221.5 L402.5,222.2 L403.3,226.0 L403.9,230.0 L404.4,236.9 L405.0,247.7 L405.7,249.4 L406.3,259.2 L406.9,265.1 L407.4,272.4 L408.0,277.6 L407.9,281.0 L407.7,293.2 L408.2,287.2 L408.8,279.1 L409.5,285.4 L410.1,290.1 L410.6,287.9 L411.2,279.9 L412.0,280.4 L412.7,279.3 L413.5,279.1 L414.3,280.8 L415.1,277.4 L415.9,281.5 L416.2,288.0 L416.6,290.9 L417.4,287.2 L418.2,282.3 L418.8,282.7 L419.4,285.4 L419.9,282.2 L420.5,274.5 L421.3,266.6 L422.1,252.6 L422.9,252.6 L423.7,257.3 L424.1,262.4 L424.5,269.8 L425.2,263.2 L426.0,255.7 L426.8,257.6 L427.6,258.8 L428.4,251.9 L429.1,246.3 L429.5,251.7 L429.9,260.4 L430.7,271.1 L431.5,274.5 L432.1,284.1 L432.6,290.1 L432.9,293.5 L433.1,301.0 L433.5,292.5 L433.8,288.5 L434.6,290.4 L435.4,288.1 L436.2,285.4 L436.9,290.8 L437.7,290.1 L438.2,285.6 L438.8,278.4 L439.5,277.7 L440.2,280.4 L440.9,280.7 L441.7,280.7 L442.4,286.8 L443.2,291.7 L444.0,288.8 L444.9,286.1 L445.6,293.6 L446.4,299.4 L446.9,306.0 L447.5,315.1 L448.0,324.2 L448.5,333.8 L448.8,340.9 L449.1,346.4 L449.7,340.7 L450.3,333.8 L451.1,331.8 L451.9,328.0 L452.7,324.5 L453.4,329.4 L454.2,335.4 L455.0,340.6 L455.8,343.2 L456.6,337.8 L457.4,332.3 L457.9,327.0 L458.5,324.5 L459.2,319.8 L459.8,317.2 L460.5,313.5 L461.3,310.6 L462.1,308.0 L462.9,309.6 L463.6,310.6 L464.4,311.9 L465.0,313.3 L465.7,313.8 L466.3,315.1 L467.1,309.4 L467.8,308.0 L468.5,313.8 L469.1,318.2 L469.7,316.9 L470.4,312.7 L471.0,308.8 L471.7,306.9 L472.3,306.4 L473.0,304.1 L473.8,298.8 L474.6,293.6 L475.4,293.2 L476.2,289.6 L476.9,284.3 L477.7,282.2 L478.5,283.0 L479.2,279.4 L480.0,280.7 L480.8,278.3 L481.6,283.1 L482.4,286.9 L483.2,292.7 L483.9,292.5 L484.7,296.3 L485.4,291.2 L486.0,290.8 L486.6,290.8 L487.3,294.3 L487.9,294.7 L488.7,294.4 L489.4,292.7 L490.2,293.7 L491.0,290.0 L491.8,290.2 L492.5,287.9 L493.3,286.9 L494.0,292.1 L494.7,298.0 L495.4,299.4 L496.0,298.5 L496.7,295.9 L497.3,291.6 L498.1,292.1 L498.8,296.3 L499.4,303.3 L500.1,312.1 L500.7,318.2 L501.3,311.4 L501.9,305.7 L502.7,310.1 L503.5,311.9 L504.3,313.5 L505.1,309.8 L505.8,302.7 L506.6,297.9 L507.4,299.9 L508.2,293.2 L509.0,294.5 L509.8,291.6 L510.7,285.0 L511.6,279.1 L512.3,279.0 L513.0,283.0 L513.7,278.3 L514.5,277.7 L515.2,279.8 L516.0,278.3 L516.8,279.6 L517.5,277.6 L518.3,275.2 L519.1,276.8 L519.7,272.4 L520.4,268.0 L521.0,262.7 L521.7,264.9 L522.4,264.6 L523.1,263.5 L523.7,260.8 L524.3,258.0 L525.0,266.1 L525.7,271.3 L526.5,269.9 L527.3,266.6 L528.0,269.3 L528.6,271.4 L529.3,273.6 L530.1,275.6 L530.9,279.5 L531.7,280.7 L532.5,277.3 L533.2,277.5 L533.8,288.6 L534.3,301.8 L534.7,290.5 L535.1,279.1 L535.8,274.0 L536.4,273.2 L537.1,271.3 L537.8,265.8 L538.5,265.9 L539.2,265.0 L540.1,274.6 L541.0,282.2 L541.8,282.4 L542.6,280.6 L543.4,279.9 L544.2,280.3 L544.9,279.0 L545.7,282.2 L546.0,289.2 L546.2,290.0 L546.8,286.7 L547.5,283.5 L548.1,277.5 L548.9,273.7 L549.6,272.8 L550.3,268.9 L551.0,262.4 L551.7,261.9 L552.1,271.8 L552.5,279.1 L553.4,285.4 L554.3,288.5 L555.1,281.4 L555.9,280.7 L556.7,275.9 L557.4,272.4 L558.2,266.6 L558.8,261.8 L559.5,259.8 L560.1,261.1 L560.8,265.9 L561.4,274.4 L562.1,278.8 L562.9,285.4 L563.7,287.7 L564.5,294.7 L565.3,291.7 L566.1,288.5 L566.9,288.1 L567.6,288.0 L568.4,286.1 L569.2,288.6 L570.0,291.3 L570.8,290.0 L571.6,292.8 L572.3,289.4 L573.1,292.4 L573.9,288.8 L574.7,286.9 L575.5,289.0 L576.2,294.7 L577.0,301.5 L577.8,311.9 L578.3,299.3 L578.9,286.9 L579.6,291.1 L580.2,296.1 L580.9,299.4 L581.7,303.0 L582.5,311.9 L583.2,308.2 L584.0,308.8 L584.8,313.5 L585.6,318.2 L586.4,316.3 L587.2,314.5 L588.0,313.5 L588.7,316.2 L589.3,317.9 L590.0,322.0 L590.7,324.2 L591.4,324.7 L592.1,325.0 L592.8,325.0 L593.5,327.2 L594.3,324.8 L595.0,318.4 L595.8,320.9 L596.6,318.5 L597.4,319.4 L598.1,316.0 L598.9,318.2 L599.7,317.3 L600.5,316.3 L601.3,317.3 L602.0,322.6 L602.8,326.4 L603.6,320.4 L604.4,316.2 L605.2,310.0 L606.0,311.6 L606.8,311.1 L607.6,310.2 L608.3,312.0 L609.1,312.7 L609.9,314.6 L610.7,313.9 L611.5,319.5 L612.2,324.1 L612.9,331.5 L613.5,341.3 L613.8,345.2 L614.1,353.8 L614.8,346.9 L615.4,341.3 L616.1,335.3 L616.9,331.9 L617.7,331.3 L618.5,334.3 L619.3,335.8 L620.1,336.7 L620.8,339.5 L621.6,341.9 L622.4,342.8 L623.2,341.7 L624.0,342.1 L624.5,354.3 L625.1,358.5 L625.5,354.8 L626.0,352.2 L626.7,356.7 L627.5,357.6 L628.2,360.0 L628.7,368.5 L629.1,373.3 L629.7,364.2 L630.2,363.2 L631.0,368.2 L631.8,375.7 L632.5,379.8 L633.1,384.0 L633.8,386.6 L634.4,393.2 L635.1,392.4 L635.7,394.5 L636.5,401.3 L637.3,403.8 L638.0,409.4 L638.8,412.4 L639.5,416.8 L640.1,417.9 L640.9,413.3 L641.6,407.0 L642.2,411.4 L642.7,416.4 L643.1,421.9 L643.5,425.7 L644.3,420.0 L645.1,417.9 L645.9,422.3 L646.6,422.6 L647.4,417.8 L648.2,416.4 L649.0,414.5 L649.8,411.7 L650.1,418.0 L650.5,417.1 L651.3,413.2 L652.1,410.1 L652.9,404.6 L653.7,399.1 L654.5,394.8 L655.2,386.6 L656.0,389.8 L656.8,392.9 L657.6,397.0 L658.4,403.8 L659.1,399.6 L659.9,394.5 L660.7,399.4 L661.5,402.3 L662.3,405.1 L663.1,405.4 L663.7,414.2 L664.3,425.7 L664.8,413.8 L665.4,396.0 L666.2,397.3 L666.9,392.9 L667.7,391.3 L668.5,390.2 L669.3,387.4 L670.1,386.6 L670.9,387.6 L671.7,382.6 L672.4,383.5 L673.2,380.2 L674.0,379.6 L674.8,380.8 L675.5,385.5 L676.3,386.6 L677.1,387.8 L677.9,384.5 L678.7,383.5 L679.4,388.9 L680.0,397.9 L680.7,403.1 L681.2,390.9 L681.8,378.8 L682.6,375.0 L683.4,370.2 L684.2,374.6 L684.9,375.8 L685.7,375.7 L686.3,378.4 L687.0,386.8 L687.6,386.6 L688.3,383.5 L688.9,381.7 L689.6,377.3 L690.4,371.5 L691.2,367.9 L692.0,365.7 L692.8,360.7 L693.6,361.6 L694.4,363.6 L695.1,361.9 L695.9,358.5 L696.7,357.2 L697.5,360.0 L698.3,354.6 L699.0,351.5 L699.8,351.4 L700.6,354.5 L701.4,352.8 L702.2,354.6 L703.0,355.6 L703.7,356.9 L704.5,352.5 L705.3,348.9 L706.1,345.2 L706.9,346.5 L707.6,351.4 L708.4,340.1 L709.2,328.8 L710.0,329.2 L710.7,334.4 L711.5,337.4 L712.3,334.8 L713.1,331.1 L713.9,336.2 L714.7,339.7 L715.3,342.0 L716.0,343.6 L716.6,347.8 L717.2,347.0 L717.8,345.7 L718.6,340.2 L719.4,336.3 L720.2,337.4 L721.0,334.5 L721.7,331.4 L722.5,330.0 L723.3,328.2 L724.0,326.9 L724.8,325.5 L725.6,326.1 L726.4,323.9 L727.2,323.5 L728.0,322.3 L728.8,319.9 L729.5,323.6 L730.3,325.4 L731.1,327.4 L731.9,322.2 L732.7,327.8 L733.4,335.8 L734.2,342.6 L734.9,342.1 L735.6,329.0 L736.3,326.9 L736.9,329.7 L737.6,334.5 L738.2,337.9 L739.0,332.3 L739.7,326.1 L740.5,331.1 L741.3,334.7 L742.0,343.7 L742.8,353.5 L743.6,350.2 L744.4,345.7 L745.0,347.9 L745.7,351.1 L746.3,351.9 L747.0,345.8 L747.6,344.7 L748.3,343.3 L749.1,342.7 L749.8,340.4 L750.6,339.8 L751.4,341.0 L752.2,347.5 L753.0,351.9 L753.6,357.8 L754.3,366.0 L754.8,365.5 L755.4,362.9 L756.0,370.4 L756.6,375.4 L757.4,374.4 L758.2,372.3 L758.6,368.5 L759.0,362.9 L759.5,375.2 L760.0,387.9 L760.6,373.0 L761.3,362.9 L761.9,360.2 L762.6,358.5 L763.2,355.1 L764.0,351.1 L764.7,348.7 L765.5,345.7 L766.3,347.8 L767.1,347.3 L767.8,341.6 L768.4,340.0 L769.1,334.7 L769.8,336.7 L770.5,331.4 L771.1,331.4 L771.8,330.0 L772.6,329.2 L773.3,331.6 L774.1,328.5 L774.9,326.9 L775.7,325.8 L776.5,322.2 L777.3,318.7 L778.0,317.5 L778.8,315.2 L779.6,315.9 L780.4,313.7 L781.2,317.5 L782.0,324.6 L782.7,326.9 L783.5,334.7 L784.3,339.4 L784.7,342.3 L785.1,351.2 L785.7,347.4 L786.3,341.0 L786.9,338.2 L787.6,336.6 L788.2,333.2 L788.9,332.0 L789.6,327.1 L790.3,327.5 L791.0,326.1 L791.6,331.5 L792.3,330.9 L792.9,334.7 L793.7,335.1 L794.4,336.6 L795.2,341.0 L796.0,342.1 L796.8,347.3 L797.6,348.9 L798.3,352.2 L799.1,350.4 L799.9,348.0 L800.7,344.6 L801.5,341.0 L802.3,343.8 L803.0,338.1 L803.8,337.9 L804.6,337.5 L805.4,339.4 L806.2,345.0 L807.0,348.8 L807.8,345.0 L808.5,339.4 L809.3,331.4 L810.1,326.9 L810.9,321.0 L811.7,319.1 L812.5,316.1 L813.2,312.1 L814.0,315.4 L814.8,315.6 L815.6,320.7 L816.4,318.8 L817.1,316.6 L817.9,316.0 L818.7,318.3 L819.5,319.1 L820.1,325.2 L820.7,331.6 L821.2,324.4 L821.8,317.5 L822.6,314.6 L823.4,314.6 L824.2,310.5 L825.1,314.8 L826.0,314.4 L826.5,320.0 L827.0,326.9 L827.3,317.4 L827.6,305.0 L828.3,301.4 L828.9,300.5 L829.6,298.0 L830.4,299.8 L831.2,301.6 L832.0,299.5 L832.7,295.6 L833.4,292.9 L834.1,289.8 L834.9,286.5 L835.6,279.9 L836.4,278.8 L837.1,275.4 L837.8,270.9 L838.5,268.6 L839.4,271.1 L840.2,270.3 L841.1,274.1 L841.9,271.0 L842.7,274.7 L843.5,274.9 L844.3,277.2 L845.0,277.6 L845.8,280.4 L846.6,277.2 L847.4,271.0 L848.1,267.4 L848.7,263.7 L849.4,261.6 L850.0,263.4 L850.7,261.0 L851.3,264.7 L851.9,262.2 L852.6,262.1 L853.2,260.8 L853.9,263.3 L854.5,262.7 L855.2,264.0 L855.9,267.4 L856.5,268.6 L857.2,272.6 L857.8,278.6 L858.3,283.5 L859.0,287.4 L859.7,284.4 L860.4,286.6 L861.0,296.5 L861.6,298.4 L862.2,289.9 L862.7,283.5 L863.4,276.9 L864.1,270.2 L864.8,274.0 L865.4,277.3 L866.0,286.0 L866.5,291.3 L867.0,282.9 L867.4,278.8 L868.0,275.2 L868.7,279.8 L869.3,278.8 L870.0,287.2 L870.8,292.9 L871.3,286.9 L871.9,278.8 L872.6,286.9 L873.3,286.5 L874.0,289.8 L874.8,287.1 L875.5,283.5 L876.2,286.1 L876.9,286.2 L877.6,286.6 L878.5,291.8 L879.4,291.3 L880.2,286.6 L881.0,285.5 L881.8,283.5 L882.6,274.5 L883.3,278.6 L884.1,274.1 L884.9,271.9 L885.7,271.0 L886.3,277.3 L886.9,280.4 L887.7,278.6 L888.5,269.4 L889.3,265.5 L890.1,261.6 L891.0,263.5 L891.9,266.3 L892.7,263.9 L893.5,263.2 L894.3,259.4 L895.1,258.5 L895.9,259.0 L896.6,261.6 L897.2,259.6 L897.9,255.4 L898.5,260.1 L899.0,264.7 L899.8,268.8 L900.5,272.6 L901.2,274.4 L901.9,278.3 L902.6,278.8 L903.2,280.2 L903.9,279.6 L904.5,280.4 L905.3,283.1 L906.0,283.3 L906.8,285.1 L907.6,282.3 L908.4,283.5 L908.8,289.9 L909.1,291.3 L909.9,288.2 L910.7,283.5 L911.3,279.3 L912.0,280.1 L912.6,275.7 L913.3,272.6 L913.9,265.7 L914.6,264.7 L915.4,267.2 L916.2,264.8 L917.0,264.0 L917.9,264.7 L918.8,262.4 L919.5,264.6 L920.2,265.8 L920.9,267.9 L921.6,271.5 L922.4,280.4 L923.2,289.1 L924.0,294.5 L924.5,287.5 L925.1,280.4 L925.8,276.2 L926.4,273.7 L927.1,269.4 L927.9,269.8 L928.7,271.1 L929.5,270.2 L930.3,267.2 L931.0,265.5 L931.8,263.2 L932.6,256.4 L933.4,256.2 L934.2,253.8 L935.1,248.7 L936.0,241.3 L936.7,244.6 L937.4,242.7 L938.1,244.4 L938.9,241.4 L939.6,238.9 L940.4,247.5 L941.2,250.7 L941.9,252.7 L942.5,257.1 L943.2,258.5 L944.0,259.8 L944.8,255.4 L945.5,259.1 L946.3,264.8 L947.0,266.3 L947.8,261.9 L948.6,260.0 L949.2,254.1 L949.8,247.5 L950.5,254.4 L951.1,261.6 L951.9,266.1 L952.6,270.2 L953.4,269.4 L954.2,264.7 L955.0,266.4 L955.8,260.0 L956.7,263.6 L957.6,269.4 L958.4,268.7 L959.2,270.8 L960.0,270.2 L960.8,262.6 L961.5,258.5 L962.0,258.5 L962.6,256.9" fill="none" stroke="#0c0c0c" stroke-width="1.85" stroke-linejoin="bevel"/><path d="M63.0,271.3V273.5M63.4,275.3V280.7M63.8,279.4V285.4M64.6,279.2V282.4M65.4,277.4V280.6M66.2,277.3V278.5M66.9,269.3V274.8M67.5,263.4V264.4M68.2,255.6V259.5M68.9,256.3V266.1M69.6,257.3V268.2M70.2,262.9V264.1M70.9,261.0V265.2M71.7,270.8V274.2M72.4,276.1V279.1M73.2,279.4V284.9M74.0,277.6V282.7M74.7,271.4V273.3M75.5,265.4V268.4M76.3,261.7V265.0M77.1,268.3V270.2M77.9,268.0V270.0M78.7,264.3V271.8M79.5,267.2V270.3M80.2,260.0V271.4M81.0,265.5V267.4M81.8,269.9V274.8M82.6,270.7V272.0M83.3,270.1V275.6M84.1,275.2V283.1M84.9,277.8V280.4M85.7,275.7V278.1M86.5,271.7V275.6M87.3,269.0V272.4M88.0,267.5V271.5M88.8,269.4V274.2M89.6,273.8V275.3M90.4,276.1V281.2M91.2,285.1V288.1M92.0,288.6V291.1M92.7,299.5V303.2M93.5,301.6V304.0M94.3,293.4V295.9M95.1,286.2V288.4M95.9,292.7V295.0M96.6,293.8V297.9M97.4,299.1V300.7M98.2,292.4V297.1M99.0,291.1V292.7M99.8,286.4V291.9M100.6,286.3V289.2M101.3,286.8V295.1M102.1,286.4V290.8M102.9,288.3V292.1M103.7,284.8V297.2M104.5,292.1V294.5M105.3,298.9V300.9M106.0,301.9V307.7M106.8,311.6V318.1M107.6,312.2V319.6M108.4,310.4V312.2M109.2,308.6V312.2M109.8,315.0V323.0M110.5,322.1V327.1M111.1,328.6V332.9M111.7,315.9V318.9M112.3,302.9V309.6M113.1,303.9V308.2M113.8,303.5V312.2M114.6,300.6V302.3M115.4,293.5V302.7M116.2,304.8V305.7M117.0,306.5V310.0M117.8,308.2V313.3M118.5,311.9V314.0M119.3,316.2V318.4M120.1,309.0V316.0M120.9,307.1V309.3M121.7,300.7V303.8M122.5,296.9V299.7M123.3,298.9V301.7M124.0,298.7V305.0M124.8,294.7V298.8M125.6,298.3V299.1M126.3,297.3V299.1M127.1,292.3V296.9M127.9,291.6V294.8M128.7,290.6V295.3M129.5,288.0V293.1M130.3,292.2V295.8M131.1,290.4V294.5M131.9,288.9V290.9M132.6,288.5V293.4M133.4,283.8V285.8M134.2,284.2V285.6M135.0,281.8V285.7M135.7,282.1V286.0M136.5,284.7V285.4M137.3,294.7V296.2M138.1,300.5V305.5M138.9,299.8V300.7M139.7,302.3V304.9M140.5,309.1V310.8M141.2,298.4V310.5M142.0,295.8V301.0M142.8,295.7V305.1M143.6,289.7V296.5M144.4,293.4V295.5M145.1,292.7V299.9M145.7,293.5V296.7M146.4,302.5V304.1M147.0,297.9V300.8M147.7,293.4V295.3M148.3,285.8V291.7M149.1,289.7V292.2M149.8,292.1V294.4M150.6,291.6V293.6M151.4,289.7V298.2M152.2,286.9V294.3M153.0,284.7V290.9M153.8,281.8V286.3M154.5,279.1V282.6M155.3,274.8V279.5M156.1,267.4V274.7M156.9,266.2V277.7M157.6,267.2V270.8M158.4,265.2V267.7M159.2,262.7V266.3M160.0,262.7V268.9M160.8,262.5V264.6M161.5,260.6V261.5M162.3,264.0V266.6M163.0,257.2V267.7M163.8,261.2V266.4M164.7,264.5V264.7M165.5,263.1V264.8M166.3,261.3V265.3M167.0,262.4V268.4M167.8,270.0V272.7M168.6,276.3V277.1M169.4,276.7V279.1M170.2,268.7V272.1M171.0,267.6V271.6M171.7,264.3V266.8M172.3,263.7V267.9M173.0,258.0V266.6M173.8,259.4V260.9M174.7,261.0V266.2M175.5,257.9V264.3M176.3,262.3V265.1M177.2,261.3V265.3M177.6,266.4V269.6M178.0,271.1V275.0M178.8,268.7V274.2M179.6,272.3V278.0M180.3,267.6V271.6M181.1,268.1V270.8M181.9,265.1V270.9M182.7,261.7V265.3M183.5,260.9V262.7M184.2,259.9V264.3M185.0,256.3V260.2M185.7,260.9V263.0M186.4,258.7V261.5M187.1,252.4V259.3M187.9,259.6V264.5M188.6,256.1V261.3M189.3,257.4V260.4M190.0,257.9V260.8M190.8,256.5V257.9M191.5,259.7V260.5M192.2,258.5V264.5M193.0,260.3V266.7M193.7,262.0V264.5M194.5,263.8V267.3M195.2,264.2V268.1M195.9,265.2V269.3M196.6,270.1V272.2M197.3,269.6V270.2M198.0,274.3V276.3M198.6,268.5V275.0M199.1,265.7V268.1M199.7,263.2V266.5M200.4,263.5V269.5M201.0,257.3V262.9M201.8,257.6V267.5M202.6,255.3V261.1M203.4,258.0V264.5M204.2,255.6V261.1M205.0,257.0V260.0M205.8,260.6V265.0M206.5,256.7V264.4M207.2,263.6V264.5M208.0,260.3V268.7M208.3,267.5V269.5M208.6,268.9V269.7M209.1,265.5V270.3M209.6,262.6V268.0M210.4,260.8V265.4M211.2,259.2V265.9M212.0,257.7V265.0M212.7,260.0V266.9M213.3,257.9V266.4M214.0,262.6V265.1M214.2,265.1V266.1M214.4,266.1V272.7M214.8,262.0V268.9M215.2,261.6V264.6M215.9,260.8V262.4M216.6,262.0V263.8M217.3,257.5V261.2M218.0,256.0V258.3M218.8,257.5V262.4M219.6,258.9V262.1M220.3,249.6V253.3M221.1,252.6V257.7M221.9,254.1V257.3M222.7,252.6V258.4M223.4,253.8V259.4M224.2,252.8V255.0M225.0,254.3V255.9M225.8,255.9V258.0M226.6,254.6V256.4M227.3,254.9V262.6M228.1,257.9V261.0M228.9,253.2V258.1M229.7,255.5V259.5M230.4,255.1V262.0M231.2,257.8V264.4M232.0,258.6V260.8M232.7,257.5V261.3M233.5,250.6V255.8M234.2,252.8V259.0M234.9,257.4V263.2M235.6,253.0V256.5M236.4,254.0V257.7M237.1,256.6V258.1M237.8,256.4V257.2M238.5,256.9V259.4M239.3,249.1V253.3M240.0,250.1V257.7M240.7,253.4V256.5M241.5,249.7V254.8M242.2,255.8V259.6M242.9,255.6V258.8M243.6,248.0V254.9M244.4,255.2V261.1M245.1,252.1V255.9M245.8,256.8V260.7M246.5,251.9V256.0M247.3,255.6V258.3M248.0,256.2V259.1M248.7,257.1V263.4M249.5,255.0V257.1M250.2,255.9V258.3M250.9,255.0V256.8M251.6,254.2V256.5M252.4,250.0V254.8M253.1,251.1V260.4M253.8,253.1V256.7M254.5,247.8V252.9M255.3,256.8V259.9M256.0,250.8V255.5M256.8,249.2V251.7M257.5,254.0V255.0M258.2,249.3V255.8M259.0,253.2V257.1M259.8,253.7V257.8M260.5,253.2V258.1M261.2,253.1V259.0M262.0,253.7V257.5M262.8,250.9V256.7M263.5,254.5V257.0M264.2,260.2V266.4M265.0,259.2V263.8M265.8,258.7V264.1M266.5,262.3V266.3M267.1,267.2V272.0M267.6,276.0V279.8M268.2,294.8V299.6M268.8,307.3V310.1M269.6,301.6V305.4M270.4,295.1V298.8M271.0,298.4V306.4M271.7,297.0V302.0M272.3,301.2V304.2M273.0,290.9V298.4M273.7,289.1V293.1M274.4,289.4V295.7M275.1,283.9V287.9M275.9,289.1V293.9M276.6,286.0V291.0M277.4,290.1V294.1M278.2,302.5V306.8M279.0,305.3V314.0M279.8,315.5V320.3M280.6,306.9V313.1M281.3,299.4V310.0M282.1,299.3V300.6M282.9,303.7V306.7M283.6,297.3V300.2M284.4,294.0V299.5M285.2,295.8V298.6M286.0,298.6V303.5M286.8,297.9V302.0M287.6,300.8V306.3M288.3,299.7V302.2M289.0,290.6V296.9M289.7,292.8V297.6M290.4,285.8V289.7M291.0,292.2V299.8M291.7,292.5V297.7M292.3,291.8V298.1M293.0,299.7V302.3M293.6,308.0V309.7M294.3,317.7V321.0M294.9,315.2V318.1M295.6,309.3V312.1M296.2,304.8V307.0M296.9,296.1V300.3M297.7,293.4V295.7M298.2,282.8V286.5M298.8,265.5V270.4M299.5,275.6V279.0M300.1,281.4V288.2M300.9,270.8V277.0M301.6,268.0V274.3M302.4,262.6V269.5M303.2,266.9V267.6M304.0,270.1V277.0M304.8,278.7V281.4M305.6,276.5V278.6M306.3,273.0V278.0M307.1,271.0V273.1M307.9,269.2V275.6M308.7,272.7V280.2M309.5,271.6V278.0M310.3,271.2V278.7M311.1,273.4V279.4M311.8,269.6V274.6M312.6,265.4V270.4M313.4,267.2V274.2M314.1,271.8V274.4M314.9,274.5V276.1M315.7,271.8V272.7M316.5,267.5V269.3M317.3,265.9V269.2M318.1,259.9V266.2M318.7,255.1V260.3M319.4,256.5V260.5M320.0,257.5V264.3M320.8,254.2V258.1M321.5,259.8V261.1M322.2,254.0V259.2M323.0,254.5V258.6M323.8,256.3V264.2M324.5,255.6V265.6M325.2,257.2V260.4M326.0,260.5V261.4M326.8,260.3V264.6M327.5,260.7V267.8M328.2,265.1V269.2M329.0,260.6V265.7M329.8,269.8V273.2M330.6,273.0V277.4M331.4,273.8V276.7M332.2,272.3V275.9M332.9,267.4V269.5M333.7,258.5V265.9M334.5,263.1V269.5M335.2,260.8V263.9M336.0,258.9V263.3M336.8,258.3V264.7M337.5,252.2V257.2M338.2,255.0V259.6M339.0,255.9V258.7M339.8,259.0V260.8M340.7,258.2V263.0M341.5,258.5V264.8M342.3,260.0V264.9M343.1,262.3V267.4M343.5,275.3V279.8M343.9,284.4V286.8M344.7,281.1V285.1M345.4,277.3V278.5M346.2,273.5V274.4M347.0,272.6V279.2M347.8,267.1V270.6M348.6,263.7V269.8M349.4,265.0V267.6M350.1,263.0V266.5M350.9,261.7V265.4M351.7,260.2V268.7M352.5,258.0V262.3M353.4,257.1V258.7M354.2,258.0V262.5M355.0,255.5V259.4M355.8,251.9V254.7M356.5,250.5V259.0M357.2,246.6V249.8M358.0,251.0V252.6M358.8,252.2V254.7M359.5,252.1V252.8M360.2,247.0V251.1M361.0,250.1V259.7M361.8,250.0V257.2M362.5,250.7V251.4M363.2,245.6V247.9M364.0,247.8V249.7M364.7,243.6V249.2M365.3,250.0V256.1M366.0,251.9V253.1M366.7,245.5V251.2M367.5,241.6V248.9M368.2,243.0V249.9M369.0,249.1V249.6M369.7,250.0V254.1M370.5,256.9V258.3M371.3,250.8V256.3M372.1,243.7V250.8M372.9,250.0V251.0M373.6,248.7V253.5M374.4,247.1V252.2M375.2,246.2V252.7M376.0,240.9V246.2M376.8,243.6V247.5M377.5,245.6V252.1M378.2,247.5V253.4M379.0,249.1V252.0M379.7,246.3V255.5M380.4,254.3V260.4M381.3,253.1V257.9M382.1,239.5V245.1M383.0,241.4V244.5M383.8,237.5V244.8M384.6,241.3V246.9M385.3,232.5V240.2M386.1,236.2V238.9M386.9,236.8V238.9M387.7,238.6V243.3M388.5,236.8V244.0M389.3,235.3V241.3M390.1,236.5V243.3M390.9,234.6V237.4M391.6,228.1V234.7M392.4,227.6V235.2M393.2,228.3V229.8M393.9,224.4V230.3M394.7,226.2V231.6M395.5,223.3V225.8M396.3,216.6V222.1M397.1,214.1V216.2M397.7,212.2V216.7M398.3,208.8V212.3M398.9,206.1V212.6M399.6,213.4V215.5M400.2,211.7V219.3M401.0,218.1V222.6M401.8,218.0V222.0M402.5,221.6V223.8M403.3,224.3V229.7M403.9,227.8V232.6M404.4,234.3V238.7M405.0,247.2V248.3M405.7,246.9V249.4M406.3,256.3V261.5M406.9,264.7V266.6M407.4,270.5V273.8M408.0,277.1V277.7M407.9,273.2V282.7M407.7,291.2V295.4M408.2,285.4V288.0M408.8,278.6V281.8M409.5,281.2V286.9M410.1,287.3V296.2M410.6,287.8V288.6M411.2,279.4V281.5M412.0,279.6V280.8M412.7,274.3V281.1M413.5,273.0V280.7M414.3,280.0V281.3M415.1,275.3V278.9M415.9,276.7V286.0M416.2,287.8V291.3M416.6,286.8V295.9M417.4,285.9V289.4M418.2,280.8V282.8M418.8,274.8V284.4M419.4,285.3V286.1M419.9,282.1V284.6M420.5,269.9V277.7M421.3,266.2V267.3M422.1,251.7V256.6M422.9,248.0V258.6M423.7,255.9V257.8M424.1,262.2V268.6M424.5,268.8V271.8M425.2,259.6V265.6M426.0,253.9V257.1M426.8,257.5V258.9M427.6,257.2V259.0M428.4,251.8V253.3M429.1,246.1V246.7M429.5,251.3V253.4M429.9,254.6V261.7M430.7,269.9V277.0M431.5,270.9V278.5M432.1,282.3V286.2M432.6,285.2V293.5M432.9,291.5V296.6M433.1,298.7V301.7M433.5,291.2V295.1M433.8,287.5V289.5M434.6,290.2V291.2M435.4,287.4V291.3M436.2,282.2V289.5M436.9,290.6V293.5M437.7,288.9V291.8M438.2,284.4V287.6M438.8,276.9V281.0M439.5,275.4V282.8M440.2,274.9V285.1M440.9,275.5V282.6M441.7,279.8V282.3M442.4,284.6V287.1M443.2,291.6V293.4M444.0,283.5V294.8M444.9,280.2V286.2M445.6,291.9V294.9M446.4,298.7V299.9M446.9,305.7V308.2M447.5,314.6V315.2M448.0,323.4V326.5M448.5,333.7V333.9M448.8,339.3V343.6M449.1,345.3V349.0M449.7,339.2V341.7M450.3,332.5V334.4M451.1,329.9V335.8M451.9,327.5V329.6M452.7,323.5V325.0M453.4,327.0V331.3M454.2,335.1V337.1M455.0,337.5V343.3M455.8,341.9V346.4M456.6,337.6V338.7M457.4,332.0V334.9M457.9,326.8V327.9M458.5,323.6V326.7M459.2,316.9V324.1M459.8,316.7V317.2M460.5,311.0V315.1M461.3,309.1V312.0M462.1,306.1V312.5M462.9,308.5V310.7M463.6,308.2V313.1M464.4,308.8V312.0M465.0,310.3V314.3M465.7,310.8V316.6M466.3,313.0V319.9M467.1,307.6V313.1M467.8,304.8V310.9M468.5,308.9V315.8M469.1,315.3V319.1M469.7,313.7V317.1M470.4,312.2V312.8M471.0,307.0V309.2M471.7,306.4V308.0M472.3,306.4V311.2M473.0,302.9V304.3M473.8,298.3V300.5M474.6,290.1V294.0M475.4,290.4V294.7M476.2,289.3V290.8M476.9,281.5V287.3M477.7,280.9V282.6M478.5,279.9V283.1M479.2,279.1V280.7M480.0,279.5V281.5M480.8,274.0V281.1M481.6,281.0V285.8M482.4,286.9V288.5M483.2,289.9V298.2M483.9,290.4V294.3M484.7,294.6V299.0M485.4,286.3V295.0M486.0,290.4V293.1M486.6,290.7V293.1M487.3,287.5V297.2M487.9,292.8V300.1M488.7,292.4V299.0M489.4,289.7V293.7M490.2,287.8V295.3M491.0,290.0V292.7M491.8,288.5V292.0M492.5,286.9V288.1M493.3,284.1V288.2M494.0,290.7V292.3M494.7,293.6V298.9M495.4,296.0V300.8M496.0,296.5V303.5M496.7,295.4V296.4M497.3,290.3V293.2M498.1,291.2V294.0M498.8,290.6V297.9M499.4,301.9V304.7M500.1,309.4V312.5M500.7,316.2V318.9M501.3,310.2V315.0M501.9,303.2V308.1M502.7,307.1V311.0M503.5,311.6V314.8M504.3,312.1V313.8M505.1,308.9V310.8M505.8,302.0V305.3M506.6,297.4V299.8M507.4,297.1V301.6M508.2,291.3V296.2M509.0,291.1V296.1M509.8,290.4V295.5M510.7,281.8V285.8M511.6,276.9V281.0M512.3,278.3V280.8M513.0,282.4V286.0M513.7,275.7V280.6M514.5,275.3V277.9M515.2,278.5V281.3M516.0,275.5V279.4M516.8,277.9V287.1M517.5,276.3V281.9M518.3,274.7V276.0M519.1,274.9V278.8M519.7,270.0V273.4M520.4,264.1V269.6M521.0,261.3V263.9M521.7,260.8V266.0M522.4,263.2V266.5M523.1,261.2V266.6M523.7,257.0V264.2M524.3,256.6V260.8M525.0,265.8V270.4M525.7,271.1V274.2M526.5,269.0V273.9M527.3,265.4V267.3M528.0,269.1V269.5M528.6,271.0V274.8M529.3,266.9V273.7M530.1,273.1V276.7M530.9,278.4V284.7M531.7,278.7V282.3M532.5,274.6V278.2M533.2,277.1V279.6M533.8,286.0V290.7M534.3,300.1V303.3M534.7,289.3V295.4M535.1,276.3V279.1M535.8,273.1V276.0M536.4,271.1V275.8M537.1,270.3V271.8M537.8,263.8V266.9M538.5,263.2V270.1M539.2,263.3V265.5M540.1,269.5V277.1M541.0,281.4V282.3M541.8,279.6V283.6M542.6,276.6V282.7M543.4,270.9V282.1M544.2,277.2V280.6M544.9,278.0V281.4M545.7,280.0V284.9M546.0,285.5V294.3M546.2,288.6V292.8M546.8,284.7V288.2M547.5,280.8V285.5M548.1,272.7V279.9M548.9,270.7V274.3M549.6,269.4V274.1M550.3,266.5V268.9M551.0,257.7V263.3M551.7,260.8V263.9M552.1,267.0V272.5M552.5,277.8V279.2M553.4,282.3V287.8M554.3,285.1V295.6M555.1,279.3V283.1M555.9,279.5V282.5M556.7,272.8V276.1M557.4,271.7V273.9M558.2,264.2V269.2M558.8,256.8V268.4M559.5,259.3V260.4M560.1,257.2V263.5M560.8,264.5V269.7M561.4,272.2V274.5M562.1,276.9V281.7M562.9,284.6V286.9M563.7,284.4V287.7M564.5,294.3V298.4M565.3,282.9V293.4M566.1,286.1V289.7M566.9,287.0V289.2M567.6,287.9V289.2M568.4,284.8V287.0M569.2,283.8V289.3M570.0,287.7V294.3M570.8,289.6V290.2M571.6,292.5V295.1M572.3,288.8V291.7M573.1,291.4V294.2M573.9,284.2V292.1M574.7,284.8V288.1M575.5,286.6V289.8M576.2,289.6V296.5M577.0,295.8V304.7M577.8,308.5V313.2M578.3,299.3V300.0M578.9,282.3V289.1M579.6,288.9V296.2M580.2,295.2V298.1M580.9,294.1V303.4M581.7,296.6V303.1M582.5,311.8V314.5M583.2,307.9V310.0M584.0,306.9V313.7M584.8,308.9V313.9M585.6,318.1V319.8M586.4,315.2V317.6M587.2,312.4V314.9M588.0,312.3V314.0M588.7,313.7V316.8M589.3,317.1V318.4M590.0,318.5V325.4M590.7,323.1V325.8M591.4,323.9V326.7M592.1,324.9V325.7M592.8,323.8V327.1M593.5,324.9V330.6M594.3,323.1V325.9M595.0,317.7V319.5M595.8,316.3V322.6M596.6,317.9V319.9M597.4,316.9V322.8M598.1,311.4V320.6M598.9,316.5V324.3M599.7,315.5V317.4M600.5,315.0V316.7M601.3,316.8V319.3M602.0,319.8V324.6M602.8,325.1V327.8M603.6,319.0V321.5M604.4,315.3V317.2M605.2,306.8V310.3M606.0,311.0V316.0M606.8,308.2V313.6M607.6,308.2V311.1M608.3,311.1V312.7M609.1,310.4V317.2M609.9,312.9V318.0M610.7,311.3V316.0M611.5,317.5V321.8M612.2,323.8V325.0M612.9,330.8V333.2M613.5,338.4V344.2M613.8,344.7V347.8M614.1,350.0V356.2M614.8,343.1V350.4M615.4,339.9V342.8M616.1,331.5V336.1M616.9,330.7V334.0M617.7,328.1V333.3M618.5,333.7V336.2M619.3,334.4V337.8M620.1,335.6V337.9M620.8,335.2V343.3M621.6,341.5V346.0M622.4,342.1V343.0M623.2,340.8V343.2M624.0,341.3V344.5M624.5,352.1V354.8M625.1,357.4V359.7M625.5,353.0V357.7M626.0,351.8V354.1M626.7,353.0V358.2M627.5,357.5V357.7M628.2,357.7V363.9M628.7,368.4V369.3M629.1,371.1V376.1M629.7,362.3V364.8M630.2,359.7V366.2M631.0,366.7V373.8M631.8,375.7V376.8M632.5,378.9V382.2M633.1,383.9V388.9M633.8,386.4V387.7M634.4,390.6V394.1M635.1,388.8V394.1M635.7,394.2V399.4M636.5,399.3V403.4M637.3,400.0V405.1M638.0,406.6V410.8M638.8,411.2V413.0M639.5,416.7V417.5M640.1,416.5V422.4M640.9,413.1V416.6M641.6,403.4V407.7M642.2,409.5V412.0M642.7,414.1V417.3M643.1,420.4V422.8M643.5,425.2V427.0M644.3,418.9V423.7M645.1,417.8V419.8M645.9,419.4V422.5M646.6,420.4V423.5M647.4,416.1V422.9M648.2,414.3V419.0M649.0,412.1V418.6M649.8,407.5V413.0M650.1,416.1V421.4M650.5,414.7V418.8M651.3,412.7V418.1M652.1,408.5V411.5M652.9,403.5V406.0M653.7,397.1V399.9M654.5,393.5V398.6M655.2,385.4V387.0M656.0,388.5V392.4M656.8,391.9V394.1M657.6,396.6V397.1M658.4,399.5V404.0M659.1,396.0V401.7M659.9,391.2V394.9M660.7,397.1V401.3M661.5,400.8V403.0M662.3,404.7V405.1M663.1,402.1V407.2M663.7,410.0V418.6M664.3,424.6V427.3M664.8,413.8V415.2M665.4,391.6V396.8M666.2,396.1V399.1M666.9,391.4V396.3M667.7,387.9V396.2M668.5,388.0V394.2M669.3,385.4V391.2M670.1,385.8V388.1M670.9,386.6V389.6M671.7,380.4V385.0M672.4,380.2V387.1M673.2,380.1V380.9M674.0,376.3V381.1M674.8,379.0V384.4M675.5,380.3V389.0M676.3,383.5V386.7M677.1,386.6V389.7M677.9,383.6V385.0M678.7,382.9V384.9M679.4,382.4V391.3M680.0,397.3V398.3M680.7,401.5V403.7M681.2,390.8V391.1M681.8,376.0V383.1M682.6,374.4V377.7M683.4,369.4V373.9M684.2,371.9V374.9M684.9,374.3V378.2M685.7,373.3V379.9M686.3,377.2V379.3M687.0,386.1V389.5M687.6,384.4V387.5M688.3,383.1V384.5M688.9,380.4V384.3M689.6,371.7V378.3M690.4,366.8V376.8M691.2,364.4V368.8M692.0,365.4V366.6M692.8,359.1V363.9M693.6,360.6V364.8M694.4,360.8V364.5M695.1,360.5V363.6M695.9,355.5V363.0M696.7,355.5V357.5M697.5,358.8V362.6M698.3,351.3V356.5M699.0,349.1V354.0M699.8,348.6V353.0M700.6,352.1V355.5M701.4,351.5V353.8M702.2,352.1V356.7M703.0,351.7V359.0M703.7,356.9V358.1M704.5,350.5V352.8M705.3,345.6V349.1M706.1,344.7V348.6M706.9,344.1V348.5M707.6,350.5V352.0M708.4,339.3V340.7M709.2,324.0V330.7M710.0,325.3V330.5M710.7,334.4V335.7M711.5,333.2V337.6M712.3,330.9V337.7M713.1,329.9V332.1M713.9,333.0V337.0M714.7,339.5V341.1M715.3,341.9V342.9M716.0,343.4V346.1M716.6,344.3V348.1M717.2,346.5V349.2M717.8,345.0V348.3M718.6,337.4V342.5M719.4,334.0V338.7M720.2,332.8V340.0M721.0,332.3V338.2M721.7,329.0V335.1M722.5,327.9V334.4M723.3,326.4V330.0M724.0,326.3V333.2M724.8,325.3V326.2M725.6,325.2V326.8M726.4,319.5V325.4M727.2,319.0V327.4M728.0,321.4V324.1M728.8,318.9V322.6M729.5,321.8V326.5M730.3,325.0V325.8M731.1,323.8V330.4M731.9,320.9V325.2M732.7,326.8V331.6M733.4,334.8V336.8M734.2,340.3V344.9M734.9,340.4V346.5M735.6,328.5V329.1M736.3,326.1V328.1M736.9,324.4V329.7M737.6,334.3V335.2M738.2,335.9V342.3M739.0,331.1V334.6M739.7,324.6V326.3M740.5,329.6V333.2M741.3,332.2V337.3M742.0,341.6V344.8M742.8,352.3V358.9M743.6,349.6V350.6M744.4,344.5V347.9M745.0,344.5V348.5M745.7,349.3V352.7M746.3,348.5V352.0M747.0,345.5V346.3M747.6,337.3V346.6M748.3,341.9V343.7M749.1,341.7V344.5M749.8,339.9V343.4M750.6,339.5V343.2M751.4,334.6V342.1M752.2,346.8V347.6M753.0,347.8V353.6M753.6,354.7V361.1M754.3,363.5V368.7M754.8,364.2V367.1M755.4,361.4V368.0M756.0,366.8V371.9M756.6,373.9V379.6M757.4,374.2V377.5M758.2,370.7V374.1M758.6,365.9V369.3M759.0,360.7V363.8M759.5,371.8V382.2M760.0,385.4V388.2M760.6,372.9V374.9M761.3,362.1V364.0M761.9,355.0V360.5M762.6,355.8V359.3M763.2,353.1V356.0M764.0,350.6V351.9M764.7,348.0V350.8M765.5,345.2V349.0M766.3,345.6V348.7M767.1,344.3V348.9M767.8,340.2V342.4M768.4,333.3V343.7M769.1,331.9V338.2M769.8,332.0V339.0M770.5,328.7V332.6M771.1,329.7V332.7M771.8,330.0V330.6M772.6,328.2V331.0M773.3,331.1V333.4M774.1,327.1V329.5M774.9,322.8V330.1M775.7,324.8V327.2M776.5,321.5V328.8M777.3,317.8V319.3M778.0,315.6V322.4M778.8,314.4V316.4M779.6,314.7V318.9M780.4,311.1V316.3M781.2,315.9V318.3M782.0,322.6V328.5M782.7,325.3V329.0M783.5,333.7V336.8M784.3,336.9V340.3M784.7,338.8V343.4M785.1,349.7V353.8M785.7,345.7V348.5M786.3,340.6V341.1M786.9,335.2V339.7M787.6,335.7V336.6M788.2,330.1V335.9M788.9,331.5V333.1M789.6,326.3V328.3M790.3,327.4V328.6M791.0,325.0V328.6M791.6,328.1V332.3M792.3,327.3V332.1M792.9,332.8V336.1M793.7,334.9V337.1M794.4,335.5V340.9M795.2,340.6V343.2M796.0,341.1V349.2M796.8,345.3V347.9M797.6,342.8V349.8M798.3,352.0V352.5M799.1,346.6V351.0M799.9,347.6V350.4M800.7,342.7V344.7M801.5,341.0V342.1M802.3,342.4V344.0M803.0,335.2V339.2M803.8,336.4V338.5M804.6,335.2V338.4M805.4,338.4V340.7M806.2,344.5V350.8M807.0,348.5V349.3M807.8,344.7V346.9M808.5,336.4V339.7M809.3,329.9V333.2M810.1,326.0V329.6M810.9,318.5V326.0M811.7,315.8V321.7M812.5,312.7V317.6M813.2,307.9V315.1M814.0,312.3V316.6M814.8,310.7V318.7M815.6,317.3V321.9M816.4,318.5V320.7M817.1,316.4V319.4M817.9,315.8V317.7M818.7,318.1V322.1M819.5,316.6V327.1M820.1,324.4V328.5M820.7,328.7V335.9M821.2,323.0V325.9M821.8,317.5V322.3M822.6,314.1V316.9M823.4,309.2V315.1M824.2,308.4V313.8M825.1,312.5V316.5M826.0,309.7V317.0M826.5,318.7V325.2M827.0,324.0V330.4M827.3,316.3V318.6M827.6,299.5V311.4M828.3,301.2V301.9M828.9,295.1V305.0M829.6,292.3V298.3M830.4,297.3V303.2M831.2,300.3V302.5M832.0,299.0V300.5M832.7,292.5V300.5M833.4,291.8V298.2M834.1,289.1V289.9M834.9,286.0V291.1M835.6,279.7V280.6M836.4,276.9V278.9M837.1,274.3V275.9M837.8,263.0V271.8M838.5,266.4V273.5M839.4,268.9V273.1M840.2,268.5V272.4M841.1,272.4V277.7M841.9,268.5V274.4M842.7,273.4V274.7M843.5,273.1V277.3M844.3,275.1V278.4M845.0,276.2V284.3M845.8,277.3V283.2M846.6,277.0V278.8M847.4,270.9V272.0M848.1,264.4V268.2M848.7,260.9V265.5M849.4,261.4V261.9M850.0,262.0V266.9M850.7,257.8V261.9M851.3,262.0V271.6M851.9,259.3V265.2M852.6,260.2V263.4M853.2,254.7V264.2M853.9,261.4V265.0M854.5,261.4V263.4M855.2,263.7V264.0M855.9,262.8V271.1M856.5,268.5V272.2M857.2,271.2V273.9M857.8,278.2V279.8M858.3,281.0V287.3M859.0,286.7V287.8M859.7,283.6V286.6M860.4,284.6V289.2M861.0,293.7V302.9M861.6,294.1V298.4M862.2,288.0V292.3M862.7,276.5V288.1M863.4,276.5V280.5M864.1,270.1V272.7M864.8,273.4V276.6M865.4,273.8V277.9M866.0,285.0V288.1M866.5,289.1V293.7M867.0,282.3V286.5M867.4,278.3V284.5M868.0,271.1V275.9M868.7,276.9V280.2M869.3,278.5V280.2M870.0,284.3V288.6M870.8,289.8V293.4M871.3,286.2V288.7M871.9,276.5V283.1M872.6,283.3V287.9M873.3,283.9V291.4M874.0,289.3V290.4M874.8,283.5V290.4M875.5,282.9V284.7M876.2,285.0V287.7M876.9,284.2V287.7M877.6,285.6V289.6M878.5,290.7V292.1M879.4,284.3V296.7M880.2,285.6V289.3M881.0,280.9V286.1M881.8,283.4V285.0M882.6,273.5V276.8M883.3,276.7V278.9M884.1,272.5V275.8M884.9,271.6V272.3M885.7,270.0V274.2M886.3,275.7V277.8M886.9,280.0V282.4M887.7,277.7V280.3M888.5,268.8V270.4M889.3,262.1V269.4M890.1,260.8V264.2M891.0,262.6V267.0M891.9,265.8V266.9M892.7,261.6V264.8M893.5,262.7V265.3M894.3,256.3V261.5M895.1,257.6V260.7M895.9,256.4V261.2M896.6,260.1V262.4M897.2,255.6V260.3M897.9,252.7V258.2M898.5,259.6V261.0M899.0,264.6V267.2M899.8,265.8V269.3M900.5,269.0V275.1M901.2,270.9V274.9M901.9,275.5V279.0M902.6,277.4V281.1M903.2,274.8V281.1M903.9,276.8V280.7M904.5,275.6V280.8M905.3,281.0V286.8M906.0,282.7V283.7M906.8,283.7V288.1M907.6,281.8V286.8M908.4,282.1V284.7M908.8,285.6V292.1M909.1,290.4V292.0M909.9,288.1V291.5M910.7,279.8V284.8M911.3,278.5V282.2M912.0,276.4V281.5M912.6,272.7V277.4M913.3,267.8V272.7M913.9,264.7V266.8M914.6,263.1V267.4M915.4,259.4V267.5M916.2,264.5V266.8M917.0,263.2V265.8M917.9,262.6V267.3M918.8,259.7V262.6M919.5,262.5V265.3M920.2,262.7V269.3M920.9,266.7V269.5M921.6,271.3V272.3M922.4,278.0V281.0M923.2,286.2V289.8M924.0,292.4V295.7M924.5,286.9V289.1M925.1,277.5V282.0M925.8,274.1V277.0M926.4,271.1V274.2M927.1,267.3V270.3M927.9,269.1V274.4M928.7,270.0V275.0M929.5,269.1V273.5M930.3,261.4V268.9M931.0,260.5V267.3M931.8,260.6V264.2M932.6,255.9V257.1M933.4,255.6V257.0M934.2,252.5V254.7M935.1,245.8V250.3M936.0,240.3V244.2M936.7,242.8V248.1M937.4,242.2V244.5M938.1,243.6V245.6M938.9,239.9V242.3M939.6,238.0V239.6M940.4,246.1V253.7M941.2,247.4V252.6M941.9,252.5V258.4M942.5,256.6V258.5M943.2,254.7V259.9M944.0,255.0V261.1M944.8,254.9V257.2M945.5,257.1V260.2M946.3,263.4V265.3M947.0,264.3V267.5M947.8,261.1V263.2M948.6,257.8V266.9M949.2,253.6V254.5M949.8,244.8V250.0M950.5,253.9V257.6M951.1,259.2V263.2M951.9,265.7V268.8M952.6,269.6V271.4M953.4,268.7V270.5M954.2,257.0V268.7M955.0,263.5V267.6M955.8,259.4V262.3M956.7,263.6V266.6M957.6,268.4V269.9M958.4,263.5V269.2M959.2,268.1V272.6M960.0,269.0V271.0M960.8,261.8V268.0M961.5,257.4V260.0M962.0,258.0V258.8M962.6,251.4V260.9" fill="none" stroke="#0c0c0c" stroke-width="1.2" opacity="0.85"/></g>
<line x1="61" x2="964.5" y1="468.8" y2="468.8" stroke="#d9404c" stroke-width="2.1"/>
<line x1="648" x2="964.5" y1="488" y2="488" stroke="#c4bcd8" stroke-width="1.4" stroke-dasharray="2 1" opacity="0.6"/>
<line x1="648" x2="964.5" y1="493.8" y2="493.8" stroke="#d8c0c8" stroke-width="1.4" stroke-dasharray="2 1" opacity="0.5"/>
<g filter="url(#b1)">
<line x1="640" x2="964.5" y1="481.3" y2="481.3" stroke="#f0a02a" stroke-width="2.4" stroke-dasharray="3 1.1"/>
<circle cx="640" cy="481.3" r="4.3" fill="#f39a1f"/>
<line x1="719.6" x2="719.6" y1="470" y2="480.5" stroke="#f3ad45" stroke-width="3.2" stroke-dasharray="2.2 0.9"/>
</g>
<text x="658" y="479.7" font-size="12" font-weight="bold" fill="#1c1c1c" stroke="#1c1c1c" stroke-width="0.3" filter="url(#b0)" textLength="52.7" lengthAdjust="spacingAndGlyphs">Прибыль</text>
<text x="371.7" y="486.3" font-size="12" font-weight="bold" fill="#1c1c1c" stroke="#1c1c1c" stroke-width="0.3" filter="url(#b0)" xml:space="preserve" textLength="258.4" lengthAdjust="spacingAndGlyphs">Уровень безубыточности short call  = 168 300</text>
<text x="611.4" y="420" font-size="13" font-weight="bold" fill="#23975a" stroke="#23975a" stroke-width="0.3" filter="url(#b0)" text-anchor="end" textLength="107.2" lengthAdjust="spacingAndGlyphs">Момент продажи</text>
<text x="611.4" y="434.6" font-size="13" font-weight="bold" fill="#23975a" stroke="#23975a" stroke-width="0.3" filter="url(#b0)" text-anchor="end" textLength="68.3" lengthAdjust="spacingAndGlyphs">put 152 500</text>
<path d="M620.5,422 L641,422" stroke="#23975a" stroke-width="1.8" fill="none"/><path d="M639.5,417.8 L646.3,422 L639.5,426.2 Z" fill="#23975a"/>
<rect x="66.2" y="138" width="300.6" height="126.4" rx="12.5" fill="#ffffff"/>
<g filter="url(#b1)">
<line x1="89.7" x2="89.7" y1="158" y2="257.7" stroke="#555" stroke-width="1.3"/><path d="M88,159.4 L89.7,155 L91.4,159.4 Z" fill="#555"/>
<line x1="89.7" x2="343" y1="205.4" y2="205.4" stroke="#555" stroke-width="1.3"/><path d="M342.8,203.7 L347.3,205.4 L342.8,207.1 Z" fill="#555"/>
<line x1="178.7" x2="178.7" y1="200.5" y2="210" stroke="#555" stroke-width="1.2"/>
<line x1="179.5" y1="184.3" x2="204.2" y2="160" stroke="#b0b0b0" stroke-width="1.8" stroke-dasharray="5 2.5"/>
<line x1="113.5" y1="249.5" x2="157.6" y2="205.3" stroke="#b5232f" stroke-width="2.2" stroke-linecap="round"/>
<line x1="157.6" y1="205.3" x2="179.7" y2="184.3" stroke="url(#rg)" stroke-width="2.2"/>
<path d="M178.6,185.2 L180.4,184.8 L337.3,184.8" stroke="#3faa6a" stroke-width="2.1" fill="none" stroke-linecap="round"/>
<circle cx="89.7" cy="185.2" r="2.9" fill="#2e9c5f"/>
<text x="74.6" y="150.6" font-size="7.2" fill="#444" textLength="28.8" lengthAdjust="spacingAndGlyphs">Прибыль</text>
<text x="307.9" y="219.2" font-size="7.6" fill="#444" textLength="47.9" lengthAdjust="spacingAndGlyphs">Стоимость БА</text>
<text x="75.8" y="188.2" font-size="8.2" font-weight="bold" fill="#2e9c5f">5</text>
<text x="76.4" y="210.4" font-size="8.6" fill="#444">0</text>
<text x="148.8" y="200.6" font-size="8" font-weight="bold" fill="#c22a3a">95</text>
<text x="179" y="222.8" font-size="9" fill="#444" text-anchor="middle">100</text>
<text x="178" y="232.8" font-size="8.2" fill="#444" text-anchor="middle">Страйк</text>
</g>
<text x="189.8" y="150.6" font-size="12" font-weight="bold" fill="#2fa35f" filter="url(#b0)" textLength="48.8" lengthAdjust="spacingAndGlyphs">short put</text>
<g filter="url(#b0)"><circle cx="296.8" cy="589.6" r="3.4" fill="#bf2a20"/><circle cx="296.8" cy="615.3" r="3.4" fill="#bf2a20"/></g>
<text x="309.2" y="595.0" font-size="17.7" fill="#353535" stroke="#353535" stroke-width="0.15" filter="url(#b0)" xml:space="preserve" textLength="328.3" lengthAdjust="spacingAndGlyphs"><tspan>Продали put со страйком </tspan><tspan font-weight="bold" fill="#151515">152 500</tspan><tspan> за </tspan><tspan font-weight="bold" fill="#151515">700</tspan><tspan>:</tspan></text>
<text x="309.2" y="620.7" font-size="17.7" fill="#353535" stroke="#353535" stroke-width="0.15" filter="url(#b0)" xml:space="preserve" textLength="393.7" lengthAdjust="spacingAndGlyphs"><tspan>Если на момент экспирации стоимость БА будет:</tspan></text>
<text x="308.3" y="647.2" font-size="17.7" fill="#353535" stroke="#353535" stroke-width="0.15" filter="url(#b0)" xml:space="preserve" textLength="439.6" lengthAdjust="spacingAndGlyphs"><tspan font-weight="bold" fill="#151515">• меньше 151 800</tspan><tspan> – получим убытки (неограниченные)</tspan></text>
<text x="308.3" y="672.9" font-size="17.7" fill="#353535" stroke="#353535" stroke-width="0.15" filter="url(#b0)" xml:space="preserve" textLength="432.5" lengthAdjust="spacingAndGlyphs"><tspan font-weight="bold" fill="#151515">• от 151 800 до 152 500</tspan><tspan> – получим частичную прибыль</tspan></text>
<text x="308.3" y="699.2" font-size="17.7" fill="#353535" stroke="#353535" stroke-width="0.15" filter="url(#b0)" xml:space="preserve" textLength="399.2" lengthAdjust="spacingAndGlyphs"><tspan font-weight="bold" fill="#151515">• больше 152 500</tspan><tspan> – получим всю прибыль (700 п)</tspan></text>
</svg></body></html>
